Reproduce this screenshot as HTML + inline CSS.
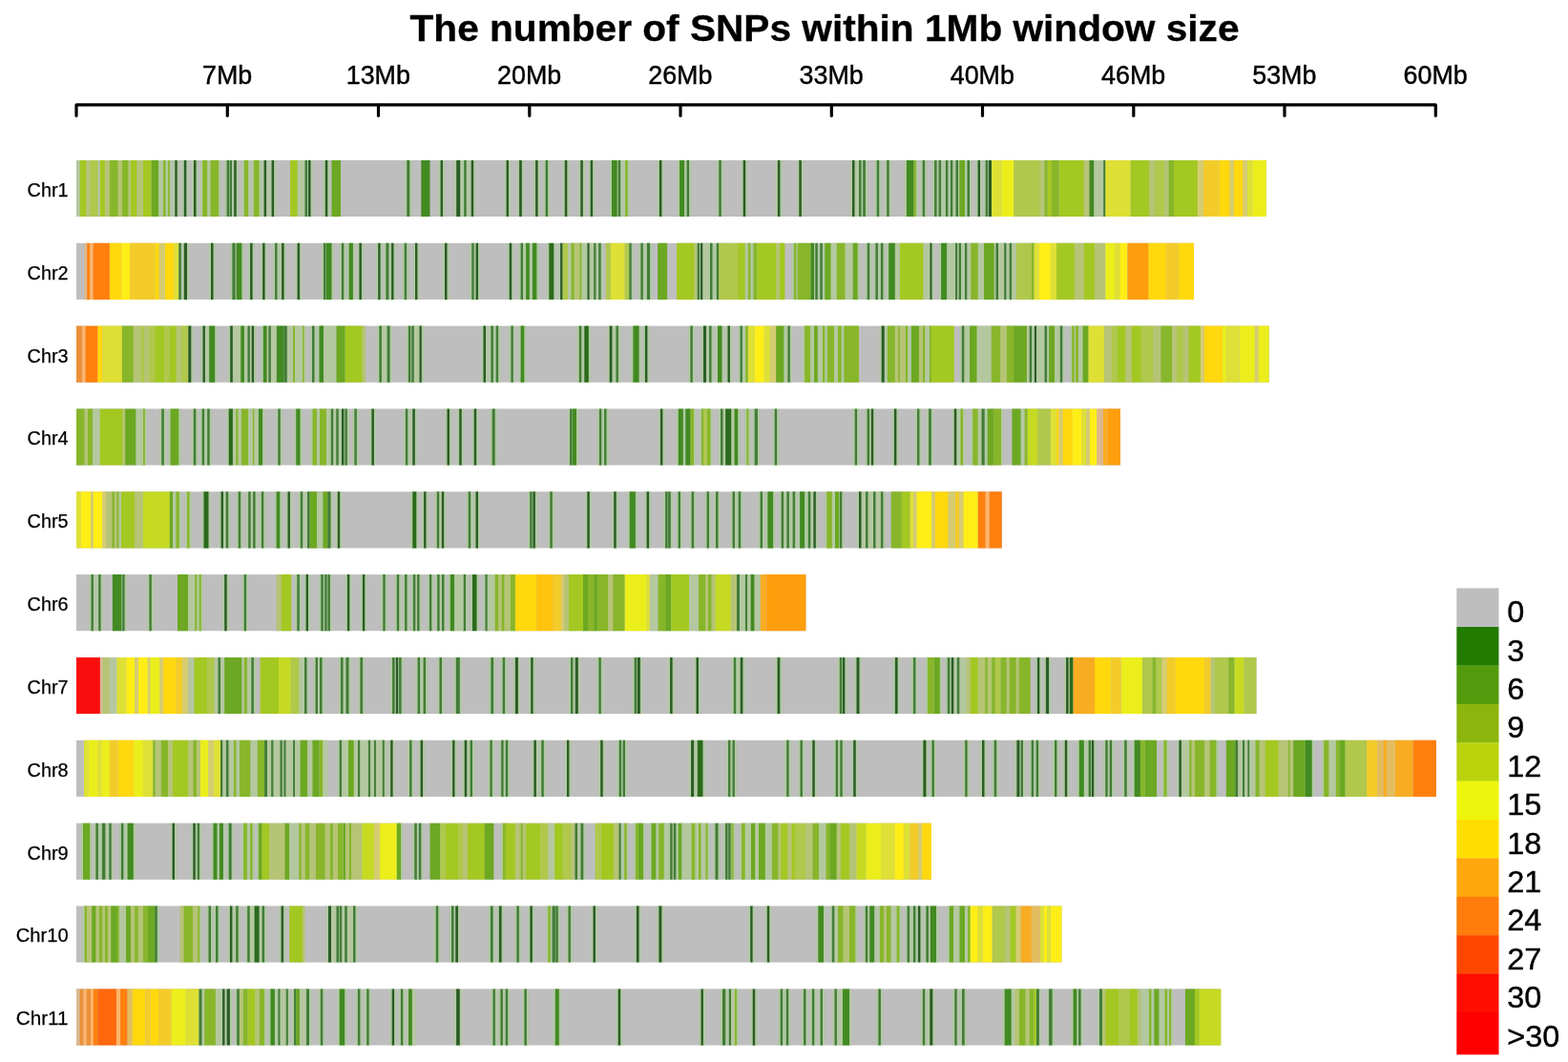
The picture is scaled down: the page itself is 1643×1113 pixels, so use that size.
<!DOCTYPE html>
<html lang="en"><head><meta charset="utf-8"><title>The number of SNPs within 1Mb window size</title>
<style>html,body{margin:0;padding:0;background:#fff}body{width:1643px;height:1113px;overflow:hidden;position:relative}svg{position:absolute;left:0;top:0;display:block}text{font-family:"Liberation Sans",sans-serif;fill:#000}.t{font-size:38px;font-weight:bold;stroke:#000;stroke-width:.3px}.a{font-size:27.5px;stroke:#000;stroke-width:.45px}.r{font-size:20px;stroke:#000;stroke-width:.25px}.l{font-size:31.8px;stroke:#000;stroke-width:.4px}</style></head><body>
<svg width="1643" height="1113" viewBox="0 0 1643 1113">
<defs><filter id="b" x="-2%" y="-20%" width="104%" height="140%"><feGaussianBlur stdDeviation="0.55 0.45"/></filter><filter id="tb"><feGaussianBlur stdDeviation="0.5"/></filter></defs>
<rect width="1643" height="1113" fill="#fff"/>
<g filter="url(#tb)">
<text class="t" x="429.5" y="43.4" textLength="869" lengthAdjust="spacingAndGlyphs">The number of SNPs within 1Mb window size</text>
<path d="M80 121.3V109.9H1504.3V121.3" stroke="#000" stroke-width="3.2" fill="none" stroke-linecap="round" stroke-linejoin="round"/>
<path d="M238.3 110V121.3" stroke="#000" stroke-width="3.2" fill="none" stroke-linecap="round"/>
<text class="a" transform="translate(238.1 87.8) scale(.977 1)" text-anchor="middle">7Mb</text>
<path d="M396.5 110V121.3" stroke="#000" stroke-width="3.2" fill="none" stroke-linecap="round"/>
<text class="a" transform="translate(396.3 87.8) scale(.977 1)" text-anchor="middle">13Mb</text>
<path d="M554.8 110V121.3" stroke="#000" stroke-width="3.2" fill="none" stroke-linecap="round"/>
<text class="a" transform="translate(554.6 87.8) scale(.977 1)" text-anchor="middle">20Mb</text>
<path d="M713 110V121.3" stroke="#000" stroke-width="3.2" fill="none" stroke-linecap="round"/>
<text class="a" transform="translate(712.8 87.8) scale(.977 1)" text-anchor="middle">26Mb</text>
<path d="M871.3 110V121.3" stroke="#000" stroke-width="3.2" fill="none" stroke-linecap="round"/>
<text class="a" transform="translate(871.1 87.8) scale(.977 1)" text-anchor="middle">33Mb</text>
<path d="M1029.5 110V121.3" stroke="#000" stroke-width="3.2" fill="none" stroke-linecap="round"/>
<text class="a" transform="translate(1029.3 87.8) scale(.977 1)" text-anchor="middle">40Mb</text>
<path d="M1187.8 110V121.3" stroke="#000" stroke-width="3.2" fill="none" stroke-linecap="round"/>
<text class="a" transform="translate(1187.6 87.8) scale(.977 1)" text-anchor="middle">46Mb</text>
<path d="M1346 110V121.3" stroke="#000" stroke-width="3.2" fill="none" stroke-linecap="round"/>
<text class="a" transform="translate(1345.8 87.8) scale(.977 1)" text-anchor="middle">53Mb</text>
<text class="a" transform="translate(1504.1 87.8) scale(.977 1)" text-anchor="middle">60Mb</text>
<text class="r" x="28.6" y="205.8" textLength="43" lengthAdjust="spacingAndGlyphs">Chr1</text>
<text class="r" x="28.6" y="292.6" textLength="43" lengthAdjust="spacingAndGlyphs">Chr2</text>
<text class="r" x="28.6" y="379.5" textLength="43" lengthAdjust="spacingAndGlyphs">Chr3</text>
<text class="r" x="28.6" y="466.3" textLength="43" lengthAdjust="spacingAndGlyphs">Chr4</text>
<text class="r" x="28.6" y="553.1" textLength="43" lengthAdjust="spacingAndGlyphs">Chr5</text>
<text class="r" x="28.6" y="640" textLength="43" lengthAdjust="spacingAndGlyphs">Chr6</text>
<text class="r" x="28.6" y="726.8" textLength="43" lengthAdjust="spacingAndGlyphs">Chr7</text>
<text class="r" x="28.6" y="813.7" textLength="43" lengthAdjust="spacingAndGlyphs">Chr8</text>
<text class="r" x="28.6" y="900.5" textLength="43" lengthAdjust="spacingAndGlyphs">Chr9</text>
<text class="r" x="16.8" y="987.4" textLength="54.8" lengthAdjust="spacingAndGlyphs">Chr10</text>
<text class="r" x="16.8" y="1074.2" textLength="54.8" lengthAdjust="spacingAndGlyphs">Chr11</text>
<text class="l" transform="translate(1579.2 652.2) scale(1.02 1)">0</text>
<text class="l" transform="translate(1579.2 692.6) scale(1.02 1)">3</text>
<text class="l" transform="translate(1579.2 733) scale(1.02 1)">6</text>
<text class="l" transform="translate(1579.2 773.4) scale(1.02 1)">9</text>
<text class="l" transform="translate(1579.2 813.8) scale(1.02 1)">12</text>
<text class="l" transform="translate(1579.2 854.2) scale(1.02 1)">15</text>
<text class="l" transform="translate(1579.2 894.6) scale(1.02 1)">18</text>
<text class="l" transform="translate(1579.2 935) scale(1.02 1)">21</text>
<text class="l" transform="translate(1579.2 975.4) scale(1.02 1)">24</text>
<text class="l" transform="translate(1579.2 1015.8) scale(1.02 1)">27</text>
<text class="l" transform="translate(1579.2 1056.2) scale(1.02 1)">30</text>
<text class="l" transform="translate(1579.2 1096.6) scale(1.02 1)">&gt;30</text>
</g>
<g filter="url(#b)">
<rect x="80" y="167.9" width="1247" height="59.1" fill="#bebebe"/>
<path fill="#a4d488" fill-opacity=".5" d="M112.7 167.9h13.1v59.1h-13.1zM125.7 167.9h10.9v59.1h-10.9zM156.4 167.9h11.9v59.1h-11.9zM168.9 167.9h6.9v59.1h-6.9zM173.9 167.9h6.1v59.1h-6.1zM181.1 167.9h6.8v59.1h-6.8zM190.6 167.9h6.9v59.1h-6.9zM200.8 167.9h6.9v59.1h-6.9zM210 167.9h9.4v59.1h-9.4zM218.3 167.9h13.1v59.1h-13.1zM235.4 167.9h6.8v59.1h-6.8zM238.4 167.9h6.8v59.1h-6.8zM243 167.9h6.9v59.1h-6.9zM253.7 167.9h8.6v59.1h-8.6zM263.7 167.9h10.1v59.1h-10.1zM274.4 167.9h6.9v59.1h-6.9zM282.4 167.9h6.9v59.1h-6.9zM317.3 167.9h6.9v59.1h-6.9zM320.8 167.9h6.9v59.1h-6.9zM338.6 167.9h6.9v59.1h-6.9zM424.1 167.9h7.4v59.1h-7.4zM459.4 167.9h6.8v59.1h-6.8zM476 167.9h6.2v59.1h-6.2zM477.6 167.9h6.8v59.1h-6.8zM484 167.9h6.9v59.1h-6.9zM491.5 167.9h6.9v59.1h-6.9zM528.4 167.9h6.8v59.1h-6.8zM541.9 167.9h7.1v59.1h-7.1zM558.9 167.9h6.9v59.1h-6.9zM569.4 167.9h6.9v59.1h-6.9zM589.6 167.9h6.9v59.1h-6.9zM606.1 167.9h6.9v59.1h-6.9zM616.5 167.9h6.8v59.1h-6.8zM638.8 167.9h10.1v59.1h-10.1zM645.5 167.9h6.9v59.1h-6.9zM653 167.9h6.9v59.1h-6.9zM688.7 167.9h6.9v59.1h-6.9zM709.9 167.9h9.4v59.1h-9.4zM717.4 167.9h6.9v59.1h-6.9zM751.1 167.9h6.9v59.1h-6.9zM776.5 167.9h6.9v59.1h-6.9zM812.7 167.9h6.9v59.1h-6.9zM835.1 167.9h6.9v59.1h-6.9zM890.8 167.9h6.9v59.1h-6.9zM897.8 167.9h6.9v59.1h-6.9zM902 167.9h7.1v59.1h-7.1zM916.5 167.9h6.9v59.1h-6.9zM927 167.9h6.9v59.1h-6.9zM947.7 167.9h11.9v59.1h-11.9zM955.2 167.9h6.9v59.1h-6.9zM964.5 167.9h6.8v59.1h-6.8zM976.9 167.9h6.9v59.1h-6.9zM981.4 167.9h6.9v59.1h-6.9zM988.7 167.9h6.8v59.1h-6.8zM993.7 167.9h6.8v59.1h-6.8zM999.3 167.9h6.9v59.1h-6.9zM1003.1 167.9h10.1v59.1h-10.1zM1011.3 167.9h6.9v59.1h-6.9zM1022.4 167.9h6.8v59.1h-6.8zM1030.5 167.9h6.9v59.1h-6.9zM1033.8 167.9h7.4v59.1h-7.4zM1092.4 167.9h7.4v59.1h-7.4zM1099.9 167.9h11.9v59.1h-11.9zM1139.3 167.9h9.1v59.1h-9.1zM1154 167.9h6.8v59.1h-6.8zM1222.3 167.9h9.9v59.1h-9.9z"/>
<path fill="#b4c8a0" d="M80 167.9h3.7v59.1h-3.7zM102.4 167.9h2.5v59.1h-2.5zM166.1 167.9h5v59.1h-5zM217.2 167.9h3.2v59.1h-3.2zM311.6 167.9h8v59.1h-8zM1146.3 167.9h10.2v59.1h-10.2z"/>
<path fill="#a4c822" d="M83.7 167.9h6.7v59.1h-6.7zM104.9 167.9h5v59.1h-5zM136.9 167.9h6.7v59.1h-6.7zM149.9 167.9h8.7v59.1h-8.7zM304.1 167.9h7.5v59.1h-7.5zM1097.6 167.9h4.5v59.1h-4.5zM1109.6 167.9h26.2v59.1h-26.2zM1184.5 167.9h15.5v59.1h-15.5zM1200 167.9h4.5v59.1h-4.5zM1229.9 167.9h25v59.1h-25z"/>
<path fill="#b6c474" d="M90.5 167.9h4.5v59.1h-4.5zM109.9 167.9h5v59.1h-5zM123.7 167.9h4.2v59.1h-4.2zM134.4 167.9h2.5v59.1h-2.5zM143.6 167.9h6.2v59.1h-6.2zM1089.6 167.9h5v59.1h-5zM1135.8 167.9h5.7v59.1h-5.7zM1204.5 167.9h5.5v59.1h-5.5zM1220 167.9h4.5v59.1h-4.5z"/>
<path fill="#b0c84c" d="M95 167.9h7.5v59.1h-7.5zM1062.2 167.9h10v59.1h-10zM1072.2 167.9h17.5v59.1h-17.5zM1210 167.9h10v59.1h-10z"/>
<path fill="#88b62c" d="M114.9 167.9h8.7v59.1h-8.7zM127.9 167.9h6.5v59.1h-6.5zM171.1 167.9h2.5v59.1h-2.5zM176.1 167.9h1.7v59.1h-1.7zM212.2 167.9h5v59.1h-5zM220.5 167.9h8.7v59.1h-8.7zM255.9 167.9h4.2v59.1h-4.2zM265.9 167.9h5.7v59.1h-5.7zM655.2 167.9h2.5v59.1h-2.5zM957.4 167.9h2.5v59.1h-2.5zM1094.6 167.9h3v59.1h-3zM1102.1 167.9h7.5v59.1h-7.5zM1224.5 167.9h5.5v59.1h-5.5z"/>
<path fill="#6ca820" d="M158.6 167.9h7.5v59.1h-7.5zM347.5 167.9h9.5v59.1h-9.5zM1005.3 167.9h5.7v59.1h-5.7z"/>
<path fill="#2b5c26" d="M183.3 167.9h2.4v59.1h-2.4zM192.8 167.9h2.5v59.1h-2.5zM203 167.9h2.5v59.1h-2.5zM245.2 167.9h2.5v59.1h-2.5zM276.6 167.9h2.5v59.1h-2.5zM284.6 167.9h2.5v59.1h-2.5zM323 167.9h2.5v59.1h-2.5zM340.8 167.9h2.5v59.1h-2.5zM461.6 167.9h2.4v59.1h-2.4zM478.2 167.9h1.8v59.1h-1.8zM479.8 167.9h2.4v59.1h-2.4zM493.7 167.9h2.5v59.1h-2.5zM530.6 167.9h2.4v59.1h-2.4zM544.1 167.9h2.7v59.1h-2.7zM561.1 167.9h2.5v59.1h-2.5zM591.8 167.9h2.5v59.1h-2.5zM608.3 167.9h2.5v59.1h-2.5zM618.7 167.9h2.4v59.1h-2.4zM690.9 167.9h2.5v59.1h-2.5zM778.7 167.9h2.5v59.1h-2.5zM814.9 167.9h2.5v59.1h-2.5zM837.3 167.9h2.5v59.1h-2.5zM893 167.9h2.5v59.1h-2.5zM1024.6 167.9h2.4v59.1h-2.4zM1036 167.9h3v59.1h-3z"/>
<path fill="#437c38" d="M237.6 167.9h2.4v59.1h-2.4zM240.6 167.9h2.4v59.1h-2.4zM319.5 167.9h2.5v59.1h-2.5zM426.3 167.9h3v59.1h-3zM486.2 167.9h2.5v59.1h-2.5zM571.6 167.9h2.5v59.1h-2.5zM647.7 167.9h2.5v59.1h-2.5zM719.6 167.9h2.5v59.1h-2.5zM753.3 167.9h2.5v59.1h-2.5zM900 167.9h2.5v59.1h-2.5zM904.2 167.9h2.7v59.1h-2.7zM918.7 167.9h2.5v59.1h-2.5zM929.2 167.9h2.5v59.1h-2.5zM966.7 167.9h2.4v59.1h-2.4zM979.1 167.9h2.5v59.1h-2.5zM983.6 167.9h2.5v59.1h-2.5zM990.9 167.9h2.4v59.1h-2.4zM995.9 167.9h2.4v59.1h-2.4zM1001.5 167.9h2.5v59.1h-2.5zM1013.5 167.9h2.5v59.1h-2.5zM1032.7 167.9h2.5v59.1h-2.5zM1156.2 167.9h2.4v59.1h-2.4z"/>
<path fill="#438a22" d="M441.3 167.9h9.2v59.1h-9.2zM641 167.9h5.7v59.1h-5.7zM712.1 167.9h5v59.1h-5zM949.9 167.9h7.5v59.1h-7.5zM1141.5 167.9h4.7v59.1h-4.7z"/>
<path fill="#dee036" d="M1039 167.9h10.7v59.1h-10.7zM1158.3 167.9h11.2v59.1h-11.2zM1169.5 167.9h15v59.1h-15zM1306.8 167.9h5.5v59.1h-5.5z"/>
<path fill="#ecee1c" d="M1049.7 167.9h12.5v59.1h-12.5zM1312.3 167.9h14.5v59.1h-14.5z"/>
<path fill="#d6cc70" d="M1254.9 167.9h6.2v59.1h-6.2zM1288.6 167.9h4.2v59.1h-4.2zM1302.3 167.9h4.5v59.1h-4.5z"/>
<path fill="#f3cc2c" d="M1261.1 167.9h16.2v59.1h-16.2z"/>
<path fill="#ffd810" d="M1277.4 167.9h11.2v59.1h-11.2zM1292.8 167.9h9.5v59.1h-9.5z"/>
<rect x="80" y="254.8" width="1171" height="59.1" fill="#bebebe"/>
<path fill="#a4d488" fill-opacity=".5" d="M185.1 254.8h6.9v59.1h-6.9zM190.6 254.8h7.6v59.1h-7.6zM218.8 254.8h6.9v59.1h-6.9zM241.2 254.8h7.6v59.1h-7.6zM245.5 254.8h10.1v59.1h-10.1zM259.9 254.8h6.9v59.1h-6.9zM272.9 254.8h6.9v59.1h-6.9zM285.9 254.8h6.8v59.1h-6.8zM292.9 254.8h6.9v59.1h-6.9zM309.4 254.8h6.9v59.1h-6.9zM336.8 254.8h6.9v59.1h-6.9zM339.8 254.8h9.9v59.1h-9.9zM355.7 254.8h6.8v59.1h-6.8zM363.5 254.8h8.6v59.1h-8.6zM374.2 254.8h6.9v59.1h-6.9zM394 254.8h6.8v59.1h-6.8zM402.2 254.8h7.4v59.1h-7.4zM407.9 254.8h6.8v59.1h-6.8zM421.5 254.8h6.8v59.1h-6.8zM432.8 254.8h6.8v59.1h-6.8zM463.8 254.8h6.9v59.1h-6.9zM492.1 254.8h6.8v59.1h-6.8zM496.4 254.8h6.8v59.1h-6.8zM531.5 254.8h6.9v59.1h-6.9zM543.4 254.8h6.8v59.1h-6.8zM548.9 254.8h8.1v59.1h-8.1zM555.7 254.8h8.9v59.1h-8.9zM573.1 254.8h9.4v59.1h-9.4zM584.9 254.8h6.8v59.1h-6.8zM596.3 254.8h7.6v59.1h-7.6zM605.1 254.8h6.4v59.1h-6.4zM613.1 254.8h6.9v59.1h-6.9zM619.8 254.8h6.8v59.1h-6.8zM625 254.8h6.9v59.1h-6.9zM657 254.8h6.9v59.1h-6.9zM669.2 254.8h6.8v59.1h-6.8zM675.7 254.8h7.6v59.1h-7.6zM728.4 254.8h6.8v59.1h-6.8zM731.8 254.8h6.9v59.1h-6.9zM741.8 254.8h6.9v59.1h-6.9zM748.6 254.8h6.9v59.1h-6.9zM781.7 254.8h6.9v59.1h-6.9zM787.2 254.8h8.1v59.1h-8.1zM829.7 254.8h6.9v59.1h-6.9zM847.1 254.8h8.1v59.1h-8.1zM852.1 254.8h6.9v59.1h-6.9zM857.1 254.8h6.9v59.1h-6.9zM862.1 254.8h10.6v59.1h-10.6zM874.6 254.8h13.1v59.1h-13.1zM891.5 254.8h9.4v59.1h-9.4zM906.5 254.8h6.9v59.1h-6.9zM915.2 254.8h6.9v59.1h-6.9zM920.7 254.8h6.9v59.1h-6.9zM929 254.8h11.1v59.1h-11.1zM971.9 254.8h6.8v59.1h-6.8zM983.9 254.8h10.6v59.1h-10.6zM998.5 254.8h6.8v59.1h-6.8zM1002.4 254.8h6.8v59.1h-6.8zM1008.8 254.8h6.9v59.1h-6.9zM1015.1 254.8h11.9v59.1h-11.9zM1041.3 254.8h6.9v59.1h-6.9zM1049.8 254.8h6.8v59.1h-6.8zM1055.5 254.8h6.9v59.1h-6.9zM1078.7 254.8h6.9v59.1h-6.9z"/>
<path fill="#dcb890" d="M88 254.8h3.2v59.1h-3.2z"/>
<path fill="#ff8010" d="M91.2 254.8h3v59.1h-3zM97.4 254.8h17.5v59.1h-17.5z"/>
<path fill="#ffb468" d="M94.2 254.8h3.2v59.1h-3.2z"/>
<path fill="#ffd810" d="M114.9 254.8h12.5v59.1h-12.5zM162.3 254.8h4.5v59.1h-4.5zM172.8 254.8h9.5v59.1h-9.5zM1203.2 254.8h18.7v59.1h-18.7zM1234.4 254.8h16.6v59.1h-16.6z"/>
<path fill="#ffee14" d="M127.4 254.8h8.7v59.1h-8.7zM1088.4 254.8h12.5v59.1h-12.5zM1173.2 254.8h8.2v59.1h-8.2z"/>
<path fill="#f3cc2c" d="M136.1 254.8h26.2v59.1h-26.2zM1221.9 254.8h12.5v59.1h-12.5z"/>
<path fill="#d6cc70" d="M166.8 254.8h6v59.1h-6z"/>
<path fill="#dee036" d="M182.3 254.8h5v59.1h-5zM639.7 254.8h15v59.1h-15zM1083.4 254.8h5v59.1h-5zM1100.9 254.8h6.2v59.1h-6.2zM1168.2 254.8h5v59.1h-5z"/>
<path fill="#437c38" d="M187.3 254.8h2.5v59.1h-2.5zM243.4 254.8h3.2v59.1h-3.2zM288.1 254.8h2.4v59.1h-2.4zM339 254.8h2.5v59.1h-2.5zM357.9 254.8h2.4v59.1h-2.4zM404.4 254.8h3v59.1h-3zM423.7 254.8h2.4v59.1h-2.4zM494.3 254.8h2.4v59.1h-2.4zM545.6 254.8h2.4v59.1h-2.4zM622 254.8h2.4v59.1h-2.4zM627.2 254.8h2.5v59.1h-2.5zM659.2 254.8h2.5v59.1h-2.5zM671.4 254.8h2.4v59.1h-2.4zM677.9 254.8h3.2v59.1h-3.2zM730.6 254.8h2.4v59.1h-2.4zM744 254.8h2.5v59.1h-2.5zM750.8 254.8h2.5v59.1h-2.5zM854.3 254.8h2.5v59.1h-2.5zM859.3 254.8h2.5v59.1h-2.5zM908.7 254.8h2.5v59.1h-2.5zM917.4 254.8h2.5v59.1h-2.5zM922.9 254.8h2.5v59.1h-2.5zM1000.7 254.8h2.4v59.1h-2.4zM1004.6 254.8h2.4v59.1h-2.4zM1011 254.8h2.5v59.1h-2.5zM1043.5 254.8h2.5v59.1h-2.5zM1052 254.8h2.4v59.1h-2.4zM1057.7 254.8h2.5v59.1h-2.5z"/>
<path fill="#2b5c26" d="M192.8 254.8h3.2v59.1h-3.2zM221 254.8h2.5v59.1h-2.5zM262.1 254.8h2.5v59.1h-2.5zM275.1 254.8h2.5v59.1h-2.5zM295.1 254.8h2.5v59.1h-2.5zM311.6 254.8h2.5v59.1h-2.5zM376.4 254.8h2.5v59.1h-2.5zM396.2 254.8h2.4v59.1h-2.4zM410.1 254.8h2.4v59.1h-2.4zM435 254.8h2.4v59.1h-2.4zM466 254.8h2.5v59.1h-2.5zM498.6 254.8h2.4v59.1h-2.4zM533.7 254.8h2.5v59.1h-2.5zM587.1 254.8h2.4v59.1h-2.4zM615.3 254.8h2.5v59.1h-2.5zM734 254.8h2.5v59.1h-2.5zM974.1 254.8h2.4v59.1h-2.4z"/>
<path fill="#438a22" d="M247.7 254.8h5.7v59.1h-5.7zM342 254.8h5.5v59.1h-5.5zM365.7 254.8h4.2v59.1h-4.2zM551.1 254.8h3.7v59.1h-3.7zM557.9 254.8h4.5v59.1h-4.5zM849.3 254.8h3.7v59.1h-3.7zM931.2 254.8h6.7v59.1h-6.7zM986.1 254.8h6.2v59.1h-6.2z"/>
<path fill="#2a6a1e" d="M575.3 254.8h5v59.1h-5z"/>
<path fill="#b0c84c" d="M589.8 254.8h5.5v59.1h-5.5zM634.7 254.8h5v59.1h-5zM654.7 254.8h4.5v59.1h-4.5zM753.3 254.8h20v59.1h-20zM1064.7 254.8h16.2v59.1h-16.2z"/>
<path fill="#b4c8a0" d="M595.3 254.8h3.2v59.1h-3.2zM609.3 254.8h6v59.1h-6zM617.7 254.8h4.5v59.1h-4.5zM736.5 254.8h7.5v59.1h-7.5zM780.7 254.8h3.2v59.1h-3.2zM870.5 254.8h6.2v59.1h-6.2zM885.5 254.8h4.5v59.1h-4.5zM890 254.8h3.7v59.1h-3.7zM937.9 254.8h5v59.1h-5zM967.4 254.8h7v59.1h-7zM992.3 254.8h8.7v59.1h-8.7zM1013.5 254.8h3.7v59.1h-3.7zM1024.8 254.8h6.2v59.1h-6.2zM1046 254.8h6.2v59.1h-6.2zM1060.2 254.8h4.5v59.1h-4.5z"/>
<path fill="#88b62c" d="M598.5 254.8h3.2v59.1h-3.2zM607.3 254.8h2v59.1h-2zM783.9 254.8h2.5v59.1h-2.5zM789.4 254.8h3.7v59.1h-3.7zM831.9 254.8h2.5v59.1h-2.5zM835.6 254.8h13.7v59.1h-13.7zM876.8 254.8h8.7v59.1h-8.7zM1017.3 254.8h7.5v59.1h-7.5zM1080.9 254.8h2.5v59.1h-2.5z"/>
<path fill="#b6c474" d="M601.8 254.8h5.5v59.1h-5.5zM727 254.8h3.2v59.1h-3.2zM813.1 254.8h3.7v59.1h-3.7zM1125.8 254.8h10v59.1h-10zM1147 254.8h11.2v59.1h-11.2z"/>
<path fill="#6ca820" d="M689.1 254.8h10v59.1h-10zM864.3 254.8h6.2v59.1h-6.2zM893.7 254.8h5v59.1h-5zM1031 254.8h10.7v59.1h-10.7z"/>
<path fill="#a4c822" d="M709.1 254.8h18v59.1h-18zM773.2 254.8h7.5v59.1h-7.5zM793.2 254.8h20v59.1h-20zM816.9 254.8h5.5v59.1h-5.5zM942.9 254.8h24.5v59.1h-24.5zM1107.1 254.8h18.7v59.1h-18.7zM1135.8 254.8h11.2v59.1h-11.2z"/>
<path fill="#ecee1c" d="M1158.3 254.8h10v59.1h-10z"/>
<path fill="#ff9e10" d="M1181.5 254.8h21.7v59.1h-21.7z"/>
<rect x="80" y="341.6" width="1250" height="59.1" fill="#bebebe"/>
<path fill="#a4d488" fill-opacity=".5" d="M195.1 341.6h7.4v59.1h-7.4zM210.3 341.6h6.8v59.1h-6.8zM217 341.6h10.4v59.1h-10.4zM239 341.6h7.1v59.1h-7.1zM250 341.6h8.1v59.1h-8.1zM257.3 341.6h6.8v59.1h-6.8zM261.5 341.6h6.8v59.1h-6.8zM273.7 341.6h8.1v59.1h-8.1zM279.2 341.6h6.8v59.1h-6.8zM287.4 341.6h12.4v59.1h-12.4zM295.4 341.6h7.6v59.1h-7.6zM304.9 341.6h6.4v59.1h-6.4zM314.8 341.6h6.1v59.1h-6.1zM324.8 341.6h6.9v59.1h-6.9zM332.3 341.6h8.9v59.1h-8.9zM350.3 341.6h13.4v59.1h-13.4zM395.2 341.6h6.9v59.1h-6.9zM403.4 341.6h7.4v59.1h-7.4zM425.7 341.6h6.8v59.1h-6.8zM429.1 341.6h6.9v59.1h-6.9zM437.1 341.6h6.9v59.1h-6.9zM504.3 341.6h6.9v59.1h-6.9zM512.2 341.6h6.9v59.1h-6.9zM517.5 341.6h6.8v59.1h-6.8zM533.2 341.6h6.8v59.1h-6.8zM543.4 341.6h8.1v59.1h-8.1zM604.6 341.6h6.9v59.1h-6.9zM610.1 341.6h8.9v59.1h-8.9zM636.5 341.6h7.1v59.1h-7.1zM643.3 341.6h6.8v59.1h-6.8zM661.2 341.6h10.6v59.1h-10.6zM673.7 341.6h6.9v59.1h-6.9zM721.2 341.6h6.8v59.1h-6.8zM734.8 341.6h7.4v59.1h-7.4zM740.9 341.6h6.8v59.1h-6.8zM749.8 341.6h8.9v59.1h-8.9zM760.3 341.6h6.8v59.1h-6.8zM773.3 341.6h6.8v59.1h-6.8zM779 341.6h6.9v59.1h-6.9zM810.9 341.6h12.6v59.1h-12.6zM823.2 341.6h6.8v59.1h-6.8zM840.9 341.6h10.6v59.1h-10.6zM850.9 341.6h8.1v59.1h-8.1zM859.6 341.6h6.9v59.1h-6.9zM864.6 341.6h11.9v59.1h-11.9zM875.8 341.6h8.1v59.1h-8.1zM882.1 341.6h10.1v59.1h-10.1zM921.5 341.6h7.4v59.1h-7.4zM927.7 341.6h12.4v59.1h-12.4zM939 341.6h6.1v59.1h-6.1zM946.4 341.6h6.9v59.1h-6.9zM952.7 341.6h12.4v59.1h-12.4zM964.7 341.6h6.9v59.1h-6.9zM971.4 341.6h6.9v59.1h-6.9zM1005.6 341.6h6.9v59.1h-6.9zM1013.8 341.6h11.9v59.1h-11.9zM1052.5 341.6h11.9v59.1h-11.9zM1076.5 341.6h6.8v59.1h-6.8zM1081.7 341.6h6.8v59.1h-6.8zM1092.4 341.6h6.9v59.1h-6.9zM1096.9 341.6h10.4v59.1h-10.4zM1108.6 341.6h6.9v59.1h-6.9zM1121.1 341.6h6.9v59.1h-6.9zM1124.9 341.6h7.4v59.1h-7.4zM1132.4 341.6h10.1v59.1h-10.1z"/>
<path fill="#ec9038" d="M80 341.6h6.2v59.1h-6.2z"/>
<path fill="#ffb468" d="M86.2 341.6h3.2v59.1h-3.2z"/>
<path fill="#ff8010" d="M89.5 341.6h13v59.1h-13z"/>
<path fill="#ffd810" d="M102.4 341.6h5v59.1h-5zM1261.9 341.6h19.2v59.1h-19.2z"/>
<path fill="#dee036" d="M107.4 341.6h20.5v59.1h-20.5zM783.7 341.6h7v59.1h-7zM800.7 341.6h6.2v59.1h-6.2zM1140.3 341.6h16.7v59.1h-16.7zM1284.8 341.6h13.7v59.1h-13.7z"/>
<path fill="#88b62c" d="M127.9 341.6h12v59.1h-12zM307.1 341.6h2v59.1h-2zM317 341.6h1.7v59.1h-1.7zM781.2 341.6h2.5v59.1h-2.5zM843.1 341.6h6.2v59.1h-6.2zM861.8 341.6h2.5v59.1h-2.5zM866.8 341.6h7.5v59.1h-7.5zM878 341.6h3.7v59.1h-3.7zM884.3 341.6h5.7v59.1h-5.7zM890 341.6h10v59.1h-10zM929.9 341.6h8v59.1h-8zM941.2 341.6h1.7v59.1h-1.7zM948.6 341.6h2.5v59.1h-2.5zM966.9 341.6h2.5v59.1h-2.5zM973.6 341.6h2.5v59.1h-2.5zM1038.5 341.6h10v59.1h-10zM1054.7 341.6h7.5v59.1h-7.5zM1123.3 341.6h2.5v59.1h-2.5zM1127.1 341.6h3v59.1h-3zM1216.2 341.6h12v59.1h-12z"/>
<path fill="#b6c474" d="M139.9 341.6h7.5v59.1h-7.5zM151.1 341.6h5v59.1h-5zM184.8 341.6h5v59.1h-5zM379.4 341.6h3.7v59.1h-3.7zM937.9 341.6h3.2v59.1h-3.2zM942.9 341.6h5.7v59.1h-5.7zM962.9 341.6h4v59.1h-4zM1048.5 341.6h6.2v59.1h-6.2zM1157 341.6h7.5v59.1h-7.5zM1179.5 341.6h6.2v59.1h-6.2zM1208.7 341.6h7.5v59.1h-7.5zM1228.2 341.6h4.2v59.1h-4.2zM1239.9 341.6h5.5v59.1h-5.5z"/>
<path fill="#b0c84c" d="M147.4 341.6h3.7v59.1h-3.7zM156.1 341.6h6.2v59.1h-6.2zM172.3 341.6h5v59.1h-5zM189.8 341.6h7.5v59.1h-7.5zM1164.5 341.6h6.2v59.1h-6.2zM1195.7 341.6h4.2v59.1h-4.2zM1200 341.6h8.7v59.1h-8.7zM1232.4 341.6h7.5v59.1h-7.5z"/>
<path fill="#a4c822" d="M162.3 341.6h10v59.1h-10zM177.3 341.6h7.5v59.1h-7.5zM361.5 341.6h18v59.1h-18zM976.1 341.6h23.7v59.1h-23.7zM1170.7 341.6h8.7v59.1h-8.7zM1185.7 341.6h10v59.1h-10zM1245.4 341.6h12.5v59.1h-12.5z"/>
<path fill="#2b5c26" d="M197.3 341.6h3v59.1h-3zM212.5 341.6h2.4v59.1h-2.4zM241.2 341.6h2.7v59.1h-2.7zM263.7 341.6h2.4v59.1h-2.4zM439.3 341.6h2.5v59.1h-2.5zM506.5 341.6h2.5v59.1h-2.5zM638.7 341.6h2.7v59.1h-2.7zM675.9 341.6h2.5v59.1h-2.5zM737 341.6h3v59.1h-3zM762.5 341.6h2.4v59.1h-2.4zM923.7 341.6h3v59.1h-3zM1083.9 341.6h2.4v59.1h-2.4z"/>
<path fill="#438a22" d="M219.2 341.6h6v59.1h-6zM252.2 341.6h3.7v59.1h-3.7zM275.9 341.6h3.7v59.1h-3.7zM289.6 341.6h8v59.1h-8zM334.5 341.6h4.5v59.1h-4.5zM545.6 341.6h3.7v59.1h-3.7zM663.4 341.6h6.2v59.1h-6.2zM752 341.6h4.5v59.1h-4.5z"/>
<path fill="#b4c8a0" d="M243.9 341.6h8.2v59.1h-8.2zM283.6 341.6h6v59.1h-6zM300.8 341.6h6.2v59.1h-6.2zM309.1 341.6h8v59.1h-8zM339 341.6h13v59.1h-13zM399.9 341.6h5.7v59.1h-5.7zM433.8 341.6h5.5v59.1h-5.5zM821.4 341.6h4.2v59.1h-4.2zM849.3 341.6h3.7v59.1h-3.7zM856.8 341.6h5v59.1h-5zM874.3 341.6h3.7v59.1h-3.7zM969.4 341.6h4.2v59.1h-4.2zM1010.3 341.6h5.7v59.1h-5.7zM1023.5 341.6h15v59.1h-15zM1075.9 341.6h3v59.1h-3zM1086.1 341.6h8.5v59.1h-8.5zM1105.1 341.6h5.7v59.1h-5.7zM1130.1 341.6h4.5v59.1h-4.5z"/>
<path fill="#437c38" d="M259.5 341.6h2.4v59.1h-2.4zM281.4 341.6h2.4v59.1h-2.4zM297.6 341.6h3.2v59.1h-3.2zM327 341.6h2.5v59.1h-2.5zM397.4 341.6h2.5v59.1h-2.5zM405.6 341.6h3v59.1h-3zM427.9 341.6h2.4v59.1h-2.4zM431.3 341.6h2.5v59.1h-2.5zM514.4 341.6h2.5v59.1h-2.5zM519.7 341.6h2.4v59.1h-2.4zM535.4 341.6h2.4v59.1h-2.4zM606.8 341.6h2.5v59.1h-2.5zM645.5 341.6h2.4v59.1h-2.4zM723.4 341.6h2.4v59.1h-2.4zM743.1 341.6h2.4v59.1h-2.4zM775.5 341.6h2.4v59.1h-2.4zM825.4 341.6h2.4v59.1h-2.4zM1007.8 341.6h2.5v59.1h-2.5zM1078.7 341.6h2.4v59.1h-2.4zM1094.6 341.6h2.5v59.1h-2.5zM1110.8 341.6h2.5v59.1h-2.5z"/>
<path fill="#6ca820" d="M352.5 341.6h9v59.1h-9zM813.1 341.6h8.2v59.1h-8.2zM853.1 341.6h3.7v59.1h-3.7zM954.9 341.6h8v59.1h-8zM1016 341.6h7.5v59.1h-7.5zM1062.2 341.6h13.7v59.1h-13.7zM1099.1 341.6h6v59.1h-6zM1134.6 341.6h5.7v59.1h-5.7z"/>
<path fill="#2a6a1e" d="M612.3 341.6h4.5v59.1h-4.5z"/>
<path fill="#ffee14" d="M790.7 341.6h10v59.1h-10z"/>
<path fill="#d6cc70" d="M806.9 341.6h6.2v59.1h-6.2zM1257.9 341.6h4v59.1h-4zM1314.8 341.6h3.7v59.1h-3.7z"/>
<path fill="#ecee1c" d="M1281.1 341.6h3.7v59.1h-3.7zM1298.6 341.6h16.2v59.1h-16.2zM1318.5 341.6h11.2v59.1h-11.2z"/>
<rect x="80" y="428.4" width="1094" height="59.1" fill="#bebebe"/>
<path fill="#a4d488" fill-opacity=".5" d="M80 428.4h10.9v59.1h-10.9zM89.8 428.4h9.4v59.1h-9.4zM147.7 428.4h6.4v59.1h-6.4zM167.1 428.4h6.9v59.1h-6.9zM176.4 428.4h13.1v59.1h-13.1zM200.6 428.4h6.9v59.1h-6.9zM209.5 428.4h6.8v59.1h-6.8zM215 428.4h6.9v59.1h-6.9zM237.5 428.4h8.6v59.1h-8.6zM245 428.4h6.9v59.1h-6.9zM250.5 428.4h11.9v59.1h-11.9zM262.4 428.4h6.4v59.1h-6.4zM268.7 428.4h8.6v59.1h-8.6zM289.1 428.4h6.9v59.1h-6.9zM308.1 428.4h8.6v59.1h-8.6zM325.3 428.4h8.9v59.1h-8.9zM332.8 428.4h11.4v59.1h-11.4zM344.6 428.4h6.8v59.1h-6.8zM350.1 428.4h6.8v59.1h-6.8zM355.8 428.4h6.8v59.1h-6.8zM359.2 428.4h6.8v59.1h-6.8zM369.2 428.4h6.8v59.1h-6.8zM387.2 428.4h6.9v59.1h-6.9zM422.7 428.4h6.8v59.1h-6.8zM430.1 428.4h6.9v59.1h-6.9zM466.3 428.4h6.9v59.1h-6.9zM479 428.4h6.9v59.1h-6.9zM494.5 428.4h6.9v59.1h-6.9zM513.5 428.4h7.4v59.1h-7.4zM594.9 428.4h6.8v59.1h-6.8zM597.6 428.4h8.6v59.1h-8.6zM625.7 428.4h6.8v59.1h-6.8zM630.9 428.4h6.8v59.1h-6.8zM689.7 428.4h6.9v59.1h-6.9zM708.6 428.4h9.4v59.1h-9.4zM716.1 428.4h9.4v59.1h-9.4zM721.1 428.4h8.1v59.1h-8.1zM732.8 428.4h6.9v59.1h-6.9zM738.6 428.4h8.1v59.1h-8.1zM752.8 428.4h6.9v59.1h-6.9zM758 428.4h10.4v59.1h-10.4zM767.3 428.4h8.1v59.1h-8.1zM780.2 428.4h6.4v59.1h-6.4zM788.5 428.4h7.6v59.1h-7.6zM809.5 428.4h6.8v59.1h-6.8zM893.5 428.4h6.8v59.1h-6.8zM906.4 428.4h6.8v59.1h-6.8zM910.6 428.4h6.8v59.1h-6.8zM934.7 428.4h6.9v59.1h-6.9zM958.8 428.4h6.8v59.1h-6.8zM970.9 428.4h7.1v59.1h-7.1zM997.6 428.4h6.9v59.1h-6.9zM1004.3 428.4h6.9v59.1h-6.9zM1017.1 428.4h9.9v59.1h-9.9zM1026.3 428.4h7.6v59.1h-7.6zM1032.5 428.4h10.6v59.1h-10.6zM1038.8 428.4h12.4v59.1h-12.4zM1071.2 428.4h7.6v59.1h-7.6z"/>
<path fill="#88b62c" d="M80 428.4h8.7v59.1h-8.7zM92 428.4h5v59.1h-5zM149.9 428.4h2v59.1h-2zM247.2 428.4h2.5v59.1h-2.5zM252.7 428.4h7.5v59.1h-7.5zM264.6 428.4h2v59.1h-2zM327.5 428.4h4.5v59.1h-4.5zM335 428.4h7v59.1h-7zM723.3 428.4h3.7v59.1h-3.7zM735 428.4h2.5v59.1h-2.5zM740.8 428.4h3.7v59.1h-3.7zM782.4 428.4h2v59.1h-2zM1006.5 428.4h2.5v59.1h-2.5zM1019.3 428.4h5.5v59.1h-5.5zM1041 428.4h8v59.1h-8zM1073.4 428.4h3.2v59.1h-3.2z"/>
<path fill="#b6c474" d="M88.7 428.4h3.2v59.1h-3.2zM128.6 428.4h2.5v59.1h-2.5z"/>
<path fill="#b4c8a0" d="M97 428.4h8v59.1h-8zM142.4 428.4h7.5v59.1h-7.5zM243.9 428.4h3.2v59.1h-3.2zM249.7 428.4h3v59.1h-3zM260.2 428.4h4.5v59.1h-4.5zM266.6 428.4h4.2v59.1h-4.2zM332 428.4h3v59.1h-3zM342 428.4h5v59.1h-5zM766.2 428.4h3.2v59.1h-3.2zM1024.8 428.4h3.7v59.1h-3.7zM1069.7 428.4h3.7v59.1h-3.7z"/>
<path fill="#a4c822" d="M104.9 428.4h23.7v59.1h-23.7z"/>
<path fill="#6ca820" d="M131.1 428.4h11.2v59.1h-11.2zM178.6 428.4h8.7v59.1h-8.7zM1034.7 428.4h6.2v59.1h-6.2zM1060.4 428.4h9.2v59.1h-9.2z"/>
<path fill="#437c38" d="M169.3 428.4h2.5v59.1h-2.5zM202.8 428.4h2.5v59.1h-2.5zM211.7 428.4h2.4v59.1h-2.4zM217.2 428.4h2.5v59.1h-2.5zM291.3 428.4h2.5v59.1h-2.5zM346.8 428.4h2.4v59.1h-2.4zM352.3 428.4h2.4v59.1h-2.4zM361.4 428.4h2.4v59.1h-2.4zM371.4 428.4h2.4v59.1h-2.4zM424.9 428.4h2.4v59.1h-2.4zM515.7 428.4h3v59.1h-3zM597.1 428.4h2.4v59.1h-2.4zM627.9 428.4h2.4v59.1h-2.4zM633.1 428.4h2.4v59.1h-2.4zM755 428.4h2.5v59.1h-2.5zM790.7 428.4h3.2v59.1h-3.2zM811.7 428.4h2.4v59.1h-2.4zM895.7 428.4h2.4v59.1h-2.4zM908.6 428.4h2.4v59.1h-2.4zM961 428.4h2.4v59.1h-2.4zM973.1 428.4h2.7v59.1h-2.7zM1028.5 428.4h3.2v59.1h-3.2z"/>
<path fill="#2a6a1e" d="M239.7 428.4h4.2v59.1h-4.2zM760.2 428.4h6v59.1h-6z"/>
<path fill="#438a22" d="M270.9 428.4h4.2v59.1h-4.2zM310.3 428.4h4.2v59.1h-4.2zM599.8 428.4h4.2v59.1h-4.2zM710.8 428.4h5v59.1h-5zM718.3 428.4h5v59.1h-5zM769.5 428.4h3.7v59.1h-3.7z"/>
<path fill="#2b5c26" d="M358 428.4h2.4v59.1h-2.4zM389.4 428.4h2.5v59.1h-2.5zM432.3 428.4h2.5v59.1h-2.5zM468.5 428.4h2.5v59.1h-2.5zM481.2 428.4h2.5v59.1h-2.5zM496.7 428.4h2.5v59.1h-2.5zM691.9 428.4h2.5v59.1h-2.5zM912.8 428.4h2.4v59.1h-2.4zM936.9 428.4h2.5v59.1h-2.5zM999.8 428.4h2.5v59.1h-2.5z"/>
<path fill="#b0c84c" d="M737.5 428.4h3.2v59.1h-3.2zM1087.1 428.4h13.7v59.1h-13.7z"/>
<path fill="#c6da22" d="M1076.7 428.4h10.5v59.1h-10.5z"/>
<path fill="#dee036" d="M1100.9 428.4h6.2v59.1h-6.2zM1133.3 428.4h5v59.1h-5z"/>
<path fill="#ffd810" d="M1107.1 428.4h2.5v59.1h-2.5zM1113.3 428.4h10v59.1h-10z"/>
<path fill="#d6cc70" d="M1109.6 428.4h3.7v59.1h-3.7zM1138.3 428.4h3.7v59.1h-3.7z"/>
<path fill="#ffee14" d="M1123.3 428.4h10v59.1h-10zM1142 428.4h7.5v59.1h-7.5z"/>
<path fill="#dcb890" d="M1149.5 428.4h6.2v59.1h-6.2z"/>
<path fill="#f8ac24" d="M1155.8 428.4h5v59.1h-5z"/>
<path fill="#ff9e10" d="M1160.8 428.4h13.2v59.1h-13.2z"/>
<rect x="80" y="515.3" width="970" height="59.1" fill="#bebebe"/>
<path fill="#a4d488" fill-opacity=".5" d="M115.2 515.3h6.9v59.1h-6.9zM120.2 515.3h6.4v59.1h-6.4zM175.6 515.3h7.6v59.1h-7.6zM182.1 515.3h7.9v59.1h-7.9zM193.8 515.3h6.9v59.1h-6.9zM211.3 515.3h9.4v59.1h-9.4zM229.4 515.3h6.8v59.1h-6.8zM234.5 515.3h6.9v59.1h-6.9zM247.5 515.3h6.9v59.1h-6.9zM258 515.3h6.9v59.1h-6.9zM262.9 515.3h6.9v59.1h-6.9zM271.7 515.3h6.8v59.1h-6.8zM287.4 515.3h8.1v59.1h-8.1zM299.3 515.3h6.8v59.1h-6.8zM312.6 515.3h6.8v59.1h-6.8zM319.8 515.3h6.9v59.1h-6.9zM322.3 515.3h11.9v59.1h-11.9zM336.1 515.3h9.4v59.1h-9.4zM341.1 515.3h7.6v59.1h-7.6zM351.6 515.3h6.8v59.1h-6.8zM430.1 515.3h8.4v59.1h-8.4zM441.9 515.3h6.8v59.1h-6.8zM455.6 515.3h6.8v59.1h-6.8zM460.6 515.3h6.8v59.1h-6.8zM488.5 515.3h6.9v59.1h-6.9zM496.3 515.3h6.9v59.1h-6.9zM553 515.3h6.8v59.1h-6.8zM556.2 515.3h6.9v59.1h-6.9zM574.1 515.3h6.9v59.1h-6.9zM613.1 515.3h6.9v59.1h-6.9zM641 515.3h6.9v59.1h-6.9zM657.5 515.3h10.6v59.1h-10.6zM675.4 515.3h6.9v59.1h-6.9zM694.9 515.3h6.9v59.1h-6.9zM697.9 515.3h7.1v59.1h-7.1zM708.4 515.3h6.8v59.1h-6.8zM722.4 515.3h6.9v59.1h-6.9zM738.4 515.3h6.8v59.1h-6.8zM747.8 515.3h6.9v59.1h-6.9zM765.4 515.3h6.8v59.1h-6.8zM771.5 515.3h6.9v59.1h-6.9zM794.4 515.3h6.8v59.1h-6.8zM802.2 515.3h10.1v59.1h-10.1zM816.5 515.3h6.8v59.1h-6.8zM822.2 515.3h6.9v59.1h-6.9zM828.4 515.3h6.9v59.1h-6.9zM835.9 515.3h9.4v59.1h-9.4zM844.6 515.3h6.9v59.1h-6.9zM850.2 515.3h6.8v59.1h-6.8zM864.1 515.3h9.9v59.1h-9.9zM872.8 515.3h8.6v59.1h-8.6zM877.7 515.3h6.8v59.1h-6.8zM897.8 515.3h6.9v59.1h-6.9zM904.8 515.3h6.9v59.1h-6.9zM912.8 515.3h6.9v59.1h-6.9zM920.7 515.3h6.9v59.1h-6.9z"/>
<path fill="#dee036" d="M80 515.3h4.5v59.1h-4.5zM953.6 515.3h3.7v59.1h-3.7z"/>
<path fill="#ffee14" d="M84.5 515.3h10.5v59.1h-10.5zM97.4 515.3h10v59.1h-10zM960.4 515.3h15.7v59.1h-15.7zM1009.3 515.3h15.5v59.1h-15.5z"/>
<path fill="#d6cc70" d="M95 515.3h2.5v59.1h-2.5zM107.4 515.3h3.7v59.1h-3.7zM957.4 515.3h3v59.1h-3zM976.1 515.3h3.7v59.1h-3.7zM993.6 515.3h7.5v59.1h-7.5zM1005.3 515.3h4v59.1h-4z"/>
<path fill="#b6c474" d="M111.2 515.3h6.2v59.1h-6.2zM119.9 515.3h2.5v59.1h-2.5zM141.1 515.3h8.7v59.1h-8.7z"/>
<path fill="#88b62c" d="M117.4 515.3h2.5v59.1h-2.5zM122.4 515.3h2v59.1h-2zM184.3 515.3h3.5v59.1h-3.5zM196 515.3h2.5v59.1h-2.5zM866.3 515.3h5.5v59.1h-5.5zM933.7 515.3h11.2v59.1h-11.2z"/>
<path fill="#a4c822" d="M126.9 515.3h14.2v59.1h-14.2zM944.9 515.3h8.7v59.1h-8.7z"/>
<path fill="#c6da22" d="M149.9 515.3h12.5v59.1h-12.5zM162.3 515.3h15.5v59.1h-15.5z"/>
<path fill="#6ca820" d="M177.8 515.3h3.2v59.1h-3.2zM324.5 515.3h7.5v59.1h-7.5zM338.3 515.3h5v59.1h-5zM875 515.3h4.2v59.1h-4.2z"/>
<path fill="#b4c8a0" d="M181 515.3h3.2v59.1h-3.2zM332 515.3h6.2v59.1h-6.2zM902.5 515.3h4.5v59.1h-4.5zM909.5 515.3h5.5v59.1h-5.5zM917.4 515.3h5.5v59.1h-5.5z"/>
<path fill="#2a6a1e" d="M213.5 515.3h5v59.1h-5zM432.3 515.3h4v59.1h-4z"/>
<path fill="#2b5c26" d="M231.6 515.3h2.4v59.1h-2.4zM301.5 515.3h2.4v59.1h-2.4zM353.8 515.3h2.4v59.1h-2.4zM444.1 515.3h2.4v59.1h-2.4zM462.8 515.3h2.4v59.1h-2.4zM498.5 515.3h2.5v59.1h-2.5zM558.4 515.3h2.5v59.1h-2.5zM615.3 515.3h2.5v59.1h-2.5zM643.2 515.3h2.5v59.1h-2.5zM677.6 515.3h2.5v59.1h-2.5zM852.4 515.3h2.4v59.1h-2.4zM900 515.3h2.5v59.1h-2.5z"/>
<path fill="#437c38" d="M236.7 515.3h2.5v59.1h-2.5zM249.7 515.3h2.5v59.1h-2.5zM260.2 515.3h2.5v59.1h-2.5zM265.1 515.3h2.5v59.1h-2.5zM273.9 515.3h2.4v59.1h-2.4zM314.8 515.3h2.4v59.1h-2.4zM322 515.3h2.5v59.1h-2.5zM343.3 515.3h3.2v59.1h-3.2zM457.8 515.3h2.4v59.1h-2.4zM490.7 515.3h2.5v59.1h-2.5zM555.2 515.3h2.4v59.1h-2.4zM576.3 515.3h2.5v59.1h-2.5zM697.1 515.3h2.5v59.1h-2.5zM700.1 515.3h2.7v59.1h-2.7zM710.6 515.3h2.4v59.1h-2.4zM724.6 515.3h2.5v59.1h-2.5zM740.6 515.3h2.4v59.1h-2.4zM750 515.3h2.5v59.1h-2.5zM767.6 515.3h2.4v59.1h-2.4zM773.7 515.3h2.5v59.1h-2.5zM796.6 515.3h2.4v59.1h-2.4zM818.7 515.3h2.4v59.1h-2.4zM824.4 515.3h2.5v59.1h-2.5zM830.6 515.3h2.5v59.1h-2.5zM846.8 515.3h2.5v59.1h-2.5zM879.9 515.3h2.4v59.1h-2.4zM907 515.3h2.5v59.1h-2.5zM915 515.3h2.5v59.1h-2.5zM922.9 515.3h2.5v59.1h-2.5z"/>
<path fill="#438a22" d="M289.6 515.3h3.7v59.1h-3.7zM659.7 515.3h6.2v59.1h-6.2zM804.4 515.3h5.7v59.1h-5.7zM838.1 515.3h5v59.1h-5z"/>
<path fill="#ffd810" d="M979.8 515.3h13.7v59.1h-13.7z"/>
<path fill="#f3cc2c" d="M1001 515.3h4.2v59.1h-4.2z"/>
<path fill="#ff8010" d="M1024.8 515.3h8v59.1h-8zM1036.5 515.3h13.2v59.1h-13.2z"/>
<path fill="#ffb468" d="M1032.7 515.3h3.7v59.1h-3.7z"/>
<rect x="80" y="602.1" width="764.5" height="59.1" fill="#bebebe"/>
<path fill="#a4d488" fill-opacity=".5" d="M93.3 602.1h6.8v59.1h-6.8zM101 602.1h6.8v59.1h-6.8zM126 602.1h6.8v59.1h-6.8zM154.2 602.1h6.8v59.1h-6.8zM202.1 602.1h6.4v59.1h-6.4zM206.5 602.1h6.4v59.1h-6.4zM233 602.1h6.9v59.1h-6.9zM253.5 602.1h6.8v59.1h-6.8zM309.1 602.1h6.9v59.1h-6.9zM318.4 602.1h6.8v59.1h-6.8zM334.1 602.1h6.9v59.1h-6.9zM338 602.1h6.8v59.1h-6.8zM341.3 602.1h6.8v59.1h-6.8zM361.7 602.1h6.8v59.1h-6.8zM377.7 602.1h6.8v59.1h-6.8zM399.1 602.1h6.8v59.1h-6.8zM413.6 602.1h6.8v59.1h-6.8zM421.9 602.1h6.8v59.1h-6.8zM430.7 602.1h6.8v59.1h-6.8zM434.9 602.1h6.8v59.1h-6.8zM447.7 602.1h6.8v59.1h-6.8zM456 602.1h6.8v59.1h-6.8zM460.8 602.1h6.8v59.1h-6.8zM469.6 602.1h8.9v59.1h-8.9zM483.3 602.1h6.9v59.1h-6.9zM492.8 602.1h8.9v59.1h-8.9zM506.3 602.1h6.8v59.1h-6.8zM516.5 602.1h8.1v59.1h-8.1zM523.2 602.1h7.6v59.1h-7.6zM532.7 602.1h9.4v59.1h-9.4zM608.8 602.1h9.4v59.1h-9.4zM613.8 602.1h10.6v59.1h-10.6zM620 602.1h8.1v59.1h-8.1zM687.4 602.1h11.9v59.1h-11.9zM694.9 602.1h10.6v59.1h-10.6zM729.8 602.1h11.9v59.1h-11.9zM739.8 602.1h8.1v59.1h-8.1zM769.8 602.1h7.4v59.1h-7.4zM778.5 602.1h6.9v59.1h-6.9zM784.2 602.1h8.6v59.1h-8.6z"/>
<path fill="#437c38" d="M95.5 602.1h2.4v59.1h-2.4zM103.2 602.1h2.4v59.1h-2.4zM128.2 602.1h2.4v59.1h-2.4zM156.4 602.1h2.4v59.1h-2.4zM255.7 602.1h2.4v59.1h-2.4zM311.3 602.1h2.5v59.1h-2.5zM336.3 602.1h2.5v59.1h-2.5zM340.2 602.1h2.4v59.1h-2.4zM343.5 602.1h2.4v59.1h-2.4zM401.3 602.1h2.4v59.1h-2.4zM415.8 602.1h2.4v59.1h-2.4zM424.1 602.1h2.4v59.1h-2.4zM432.9 602.1h2.4v59.1h-2.4zM437.1 602.1h2.4v59.1h-2.4zM449.9 602.1h2.4v59.1h-2.4zM458.2 602.1h2.4v59.1h-2.4zM463 602.1h2.4v59.1h-2.4zM485.5 602.1h2.5v59.1h-2.5zM508.5 602.1h2.4v59.1h-2.4zM772 602.1h3v59.1h-3zM780.7 602.1h2.5v59.1h-2.5z"/>
<path fill="#438a22" d="M117.9 602.1h9.5v59.1h-9.5zM471.8 602.1h4.5v59.1h-4.5zM786.4 602.1h4.2v59.1h-4.2z"/>
<path fill="#6ca820" d="M186 602.1h11.2v59.1h-11.2zM611 602.1h5v59.1h-5zM622.2 602.1h3.7v59.1h-3.7zM697.1 602.1h6.2v59.1h-6.2z"/>
<path fill="#b4c8a0" d="M197.3 602.1h6.2v59.1h-6.2zM476.3 602.1h3.7v59.1h-3.7zM480 602.1h5.5v59.1h-5.5zM510.7 602.1h8v59.1h-8zM680.9 602.1h8.7v59.1h-8.7zM722.1 602.1h10v59.1h-10zM775 602.1h5.7v59.1h-5.7zM783.2 602.1h3.2v59.1h-3.2zM790.7 602.1h6.2v59.1h-6.2z"/>
<path fill="#88b62c" d="M204.3 602.1h2v59.1h-2zM208.7 602.1h2v59.1h-2zM518.7 602.1h3.7v59.1h-3.7zM525.4 602.1h3.2v59.1h-3.2zM534.9 602.1h5v59.1h-5zM616 602.1h6.2v59.1h-6.2zM626 602.1h11.2v59.1h-11.2zM642.2 602.1h12.5v59.1h-12.5zM689.6 602.1h7.5v59.1h-7.5zM732 602.1h7.5v59.1h-7.5zM742 602.1h3.7v59.1h-3.7z"/>
<path fill="#2b5c26" d="M235.2 602.1h2.5v59.1h-2.5zM320.6 602.1h2.4v59.1h-2.4zM363.9 602.1h2.4v59.1h-2.4zM379.9 602.1h2.4v59.1h-2.4z"/>
<path fill="#b6c474" d="M289.6 602.1h5v59.1h-5zM522.4 602.1h3v59.1h-3zM528.7 602.1h6.2v59.1h-6.2zM591 602.1h5v59.1h-5zM637.2 602.1h5v59.1h-5zM739.5 602.1h2.5v59.1h-2.5zM745.8 602.1h3.7v59.1h-3.7zM765.7 602.1h6.2v59.1h-6.2z"/>
<path fill="#a4c822" d="M294.6 602.1h10.7v59.1h-10.7zM596 602.1h15v59.1h-15zM703.3 602.1h18.7v59.1h-18.7z"/>
<path fill="#2a6a1e" d="M495 602.1h4.5v59.1h-4.5z"/>
<path fill="#ffd810" d="M539.9 602.1h22.5v59.1h-22.5z"/>
<path fill="#ffc410" d="M562.3 602.1h17.5v59.1h-17.5z"/>
<path fill="#f3cc2c" d="M579.8 602.1h8.7v59.1h-8.7z"/>
<path fill="#d6cc70" d="M588.6 602.1h2.5v59.1h-2.5z"/>
<path fill="#ecee1c" d="M654.7 602.1h22.5v59.1h-22.5z"/>
<path fill="#dee036" d="M677.1 602.1h3.7v59.1h-3.7z"/>
<path fill="#c6da22" d="M749.5 602.1h16.2v59.1h-16.2z"/>
<path fill="#f8ac24" d="M796.9 602.1h6.2v59.1h-6.2z"/>
<path fill="#ff9e10" d="M803.2 602.1h41.2v59.1h-41.2z"/>
<rect x="80" y="689" width="1236.5" height="59.1" fill="#bebebe"/>
<path fill="#a4d488" fill-opacity=".5" d="M226.3 689h6.9v59.1h-6.9zM253.7 689h7.4v59.1h-7.4zM261.2 689h6.9v59.1h-6.9zM316.8 689h6.9v59.1h-6.9zM328.4 689h6.8v59.1h-6.8zM332.8 689h6.9v59.1h-6.9zM354.8 689h6.9v59.1h-6.9zM360.3 689h7.4v59.1h-7.4zM375.2 689h7.1v59.1h-7.1zM408.9 689h6.9v59.1h-6.9zM412.6 689h6.8v59.1h-6.8zM415.9 689h6.9v59.1h-6.9zM435.4 689h6.9v59.1h-6.9zM441.4 689h6.9v59.1h-6.9zM458.3 689h6.9v59.1h-6.9zM475.6 689h6.6v59.1h-6.6zM477.2 689h6.8v59.1h-6.8zM512.2 689h7.1v59.1h-7.1zM524.5 689h6.8v59.1h-6.8zM537.7 689h7.4v59.1h-7.4zM554 689h6.8v59.1h-6.8zM595.8 689h6.8v59.1h-6.8zM600.6 689h7.4v59.1h-7.4zM625.2 689h6.8v59.1h-6.8zM662.5 689h6.9v59.1h-6.9zM665.7 689h7.4v59.1h-7.4zM699.9 689h6.9v59.1h-6.9zM727.3 689h6.9v59.1h-6.9zM766.6 689h6.8v59.1h-6.8zM773.5 689h7.1v59.1h-7.1zM812.4 689h7.1v59.1h-7.1zM877.6 689h6.8v59.1h-6.8zM880.7 689h6.8v59.1h-6.8zM895.3 689h7.4v59.1h-7.4zM935.7 689h7.1v59.1h-7.1zM954.7 689h6.9v59.1h-6.9zM969.7 689h11.1v59.1h-11.1zM976.4 689h10.6v59.1h-10.6zM990.6 689h6.9v59.1h-6.9zM994.6 689h6.9v59.1h-6.9zM1000.6 689h6.9v59.1h-6.9zM1030 689h6.9v59.1h-6.9zM1037 689h7.9v59.1h-7.9zM1046.3 689h10.6v59.1h-10.6zM1055.5 689h11.4v59.1h-11.4zM1084.7 689h6.8v59.1h-6.8zM1093.7 689h7.6v59.1h-7.6zM1114.9 689h6.9v59.1h-6.9zM1118.6 689h8.1v59.1h-8.1zM1205.3 689h8.1v59.1h-8.1zM1285.1 689h10.6v59.1h-10.6z"/>
<path fill="#fa0c0c" d="M80 689h24.9v59.1h-24.9z"/>
<path fill="#dcb890" d="M104.9 689h2.5v59.1h-2.5z"/>
<path fill="#b6c474" d="M107.4 689h7.5v59.1h-7.5zM1012.3 689h4.5v59.1h-4.5zM1024.8 689h7.5v59.1h-7.5zM1034.7 689h4.5v59.1h-4.5zM1054.7 689h3v59.1h-3zM1064.7 689h3v59.1h-3zM1268.6 689h3.7v59.1h-3.7z"/>
<path fill="#b4c8a0" d="M114.9 689h7.5v59.1h-7.5zM197.3 689h6.2v59.1h-6.2zM224.7 689h3.7v59.1h-3.7zM231 689h4.2v59.1h-4.2zM253.4 689h2.5v59.1h-2.5zM258.9 689h4.5v59.1h-4.5zM313.3 689h5v59.1h-5zM1005.3 689h7v59.1h-7z"/>
<path fill="#dee036" d="M122.4 689h10v59.1h-10z"/>
<path fill="#ffee14" d="M132.4 689h8.7v59.1h-8.7zM144.9 689h10v59.1h-10z"/>
<path fill="#d6cc70" d="M141.1 689h3.7v59.1h-3.7zM154.8 689h2.5v59.1h-2.5zM167.3 689h3.7v59.1h-3.7zM191 689h6.2v59.1h-6.2zM1217.5 689h5v59.1h-5z"/>
<path fill="#ecee1c" d="M157.3 689h10v59.1h-10zM1174.5 689h22.5v59.1h-22.5z"/>
<path fill="#ffd810" d="M171.1 689h13.7v59.1h-13.7zM1147 689h17.5v59.1h-17.5zM1231.2 689h31.2v59.1h-31.2z"/>
<path fill="#f3cc2c" d="M184.8 689h6.2v59.1h-6.2zM1164.5 689h10v59.1h-10zM1222.5 689h8.7v59.1h-8.7zM1262.4 689h6.2v59.1h-6.2z"/>
<path fill="#a4c822" d="M203.5 689h13.7v59.1h-13.7zM272.6 689h19.5v59.1h-19.5zM1016.8 689h8v59.1h-8z"/>
<path fill="#b0c84c" d="M217.2 689h7.5v59.1h-7.5zM304.6 689h8.7v59.1h-8.7zM1042.7 689h5.7v59.1h-5.7zM1196.9 689h3v59.1h-3zM1200 689h7.5v59.1h-7.5zM1211.2 689h6.2v59.1h-6.2zM1272.4 689h15v59.1h-15zM1303.6 689h12.9v59.1h-12.9z"/>
<path fill="#437c38" d="M228.5 689h2.5v59.1h-2.5zM263.4 689h2.5v59.1h-2.5zM319 689h2.5v59.1h-2.5zM330.6 689h2.4v59.1h-2.4zM335 689h2.5v59.1h-2.5zM357 689h2.5v59.1h-2.5zM362.5 689h3v59.1h-3zM377.4 689h2.7v59.1h-2.7zM411.1 689h2.5v59.1h-2.5zM418.1 689h2.5v59.1h-2.5zM437.6 689h2.5v59.1h-2.5zM443.6 689h2.5v59.1h-2.5zM460.5 689h2.5v59.1h-2.5zM477.8 689h2.2v59.1h-2.2zM479.4 689h2.4v59.1h-2.4zM514.4 689h2.7v59.1h-2.7zM526.7 689h2.4v59.1h-2.4zM598 689h2.4v59.1h-2.4zM627.4 689h2.4v59.1h-2.4zM664.7 689h2.5v59.1h-2.5zM768.8 689h2.4v59.1h-2.4zM879.8 689h2.4v59.1h-2.4zM956.9 689h2.5v59.1h-2.5zM992.8 689h2.5v59.1h-2.5zM1002.8 689h2.5v59.1h-2.5z"/>
<path fill="#6ca820" d="M235.2 689h18.2v59.1h-18.2zM978.6 689h6.2v59.1h-6.2z"/>
<path fill="#88b62c" d="M255.9 689h3v59.1h-3zM971.9 689h6.7v59.1h-6.7zM1032.2 689h2.5v59.1h-2.5zM1039.2 689h3.5v59.1h-3.5zM1048.5 689h6.2v59.1h-6.2zM1057.7 689h7v59.1h-7zM1067.7 689h12v59.1h-12zM1207.5 689h3.7v59.1h-3.7zM1287.3 689h6.2v59.1h-6.2z"/>
<path fill="#c6da22" d="M292.1 689h12.5v59.1h-12.5zM1293.6 689h10v59.1h-10z"/>
<path fill="#2b5c26" d="M414.8 689h2.4v59.1h-2.4zM539.9 689h3v59.1h-3zM556.2 689h2.4v59.1h-2.4zM602.8 689h3v59.1h-3zM667.9 689h3v59.1h-3zM702.1 689h2.5v59.1h-2.5zM729.5 689h2.5v59.1h-2.5zM775.7 689h2.7v59.1h-2.7zM814.6 689h2.7v59.1h-2.7zM882.9 689h2.4v59.1h-2.4zM897.5 689h3v59.1h-3zM937.9 689h2.7v59.1h-2.7zM996.8 689h2.5v59.1h-2.5zM1086.9 689h2.4v59.1h-2.4zM1095.9 689h3.2v59.1h-3.2zM1117.1 689h2.5v59.1h-2.5z"/>
<path fill="#2a6a1e" d="M1120.8 689h3.7v59.1h-3.7z"/>
<path fill="#f8ac24" d="M1124.6 689h22.5v59.1h-22.5z"/>
<rect x="80" y="775.8" width="1425" height="59.1" fill="#bebebe"/>
<path fill="#a4d488" fill-opacity=".5" d="M158.1 775.8h6.9v59.1h-6.9zM166.4 775.8h11.9v59.1h-11.9zM200.1 775.8h8.1v59.1h-8.1zM228.8 775.8h6.9v59.1h-6.9zM234.5 775.8h7.4v59.1h-7.4zM242.5 775.8h7.4v59.1h-7.4zM267.4 775.8h11.9v59.1h-11.9zM274.9 775.8h7.4v59.1h-7.4zM281.9 775.8h6.9v59.1h-6.9zM291.1 775.8h6.9v59.1h-6.9zM295.2 775.8h6.8v59.1h-6.8zM304.7 775.8h6.8v59.1h-6.8zM312.4 775.8h11.9v59.1h-11.9zM325.3 775.8h11.4v59.1h-11.4zM332.3 775.8h8.1v59.1h-8.1zM353.5 775.8h6.9v59.1h-6.9zM362.8 775.8h10.1v59.1h-10.1zM372.7 775.8h6.9v59.1h-6.9zM383.5 775.8h6.9v59.1h-6.9zM389.5 775.8h6.8v59.1h-6.8zM398.2 775.8h6.8v59.1h-6.8zM407 775.8h6.8v59.1h-6.8zM426.9 775.8h6.8v59.1h-6.8zM438.4 775.8h6.9v59.1h-6.9zM471.9 775.8h6.8v59.1h-6.8zM484.5 775.8h6.9v59.1h-6.9zM490.4 775.8h6.8v59.1h-6.8zM511.2 775.8h6.8v59.1h-6.8zM523 775.8h6.8v59.1h-6.8zM527.6 775.8h6.8v59.1h-6.8zM557.2 775.8h6.9v59.1h-6.9zM565.1 775.8h6.9v59.1h-6.9zM591.8 775.8h6.8v59.1h-6.8zM627 775.8h6.9v59.1h-6.9zM646.5 775.8h6.8v59.1h-6.8zM650.4 775.8h6.8v59.1h-6.8zM721.9 775.8h7.4v59.1h-7.4zM728.6 775.8h10.1v59.1h-10.1zM760.8 775.8h6.8v59.1h-6.8zM765.3 775.8h6.8v59.1h-6.8zM822 775.8h6.8v59.1h-6.8zM836.3 775.8h6.8v59.1h-6.8zM849.1 775.8h6.9v59.1h-6.9zM873.5 775.8h6.8v59.1h-6.8zM878.1 775.8h6.8v59.1h-6.8zM892 775.8h6.9v59.1h-6.9zM965.2 775.8h7.4v59.1h-7.4zM974.3 775.8h6.8v59.1h-6.8zM1009 775.8h6.8v59.1h-6.8zM1026.8 775.8h6.9v59.1h-6.9zM1039.5 775.8h6.9v59.1h-6.9zM1063.2 775.8h7.4v59.1h-7.4zM1067.4 775.8h6.8v59.1h-6.8zM1078.5 775.8h6.8v59.1h-6.8zM1083.5 775.8h6.8v59.1h-6.8zM1102.8 775.8h6.8v59.1h-6.8zM1113.6 775.8h6.8v59.1h-6.8zM1128.6 775.8h9.4v59.1h-9.4zM1138.4 775.8h6.8v59.1h-6.8zM1141.6 775.8h6.8v59.1h-6.8zM1156.1 775.8h6.8v59.1h-6.8zM1160.5 775.8h6.8v59.1h-6.8zM1176 775.8h6.9v59.1h-6.9zM1186.5 775.8h10.6v59.1h-10.6zM1192.7 775.8h9.4v59.1h-9.4zM1217.3 775.8h7.4v59.1h-7.4zM1233.2 775.8h6.9v59.1h-6.9zM1244 775.8h6.9v59.1h-6.9zM1265.2 775.8h11.4v59.1h-11.4zM1292.1 775.8h7.4v59.1h-7.4zM1299.6 775.8h6.9v59.1h-6.9zM1304.9 775.8h6.8v59.1h-6.8zM1313.1 775.8h8.9v59.1h-8.9zM1347.5 775.8h6.4v59.1h-6.4zM1365.5 775.8h11.4v59.1h-11.4zM1385 775.8h9.9v59.1h-9.9zM1397.4 775.8h8.1v59.1h-8.1zM1401.2 775.8h10.6v59.1h-10.6z"/>
<path fill="#dee036" d="M88 775.8h4.5v59.1h-4.5zM102.4 775.8h3.7v59.1h-3.7zM149.9 775.8h10.5v59.1h-10.5zM223.5 775.8h7.5v59.1h-7.5z"/>
<path fill="#ecee1c" d="M92.5 775.8h10v59.1h-10zM106.2 775.8h8.7v59.1h-8.7zM139.9 775.8h10v59.1h-10zM209.7 775.8h8.7v59.1h-8.7z"/>
<path fill="#f3cc2c" d="M114.9 775.8h8.7v59.1h-8.7zM1432.1 775.8h11.2v59.1h-11.2z"/>
<path fill="#ffd810" d="M123.7 775.8h16.2v59.1h-16.2z"/>
<path fill="#88b62c" d="M160.3 775.8h2.5v59.1h-2.5zM168.6 775.8h7.5v59.1h-7.5zM202.3 775.8h3.7v59.1h-3.7zM244.7 775.8h3v59.1h-3zM250.9 775.8h11.7v59.1h-11.7zM269.6 775.8h7.5v59.1h-7.5zM334.5 775.8h3.7v59.1h-3.7zM1194.9 775.8h5v59.1h-5zM1219.5 775.8h3v59.1h-3zM1246.2 775.8h2.5v59.1h-2.5zM1251.9 775.8h10.5v59.1h-10.5zM1267.4 775.8h7v59.1h-7zM1315.3 775.8h4.5v59.1h-4.5zM1349.7 775.8h2v59.1h-2zM1387.2 775.8h5.5v59.1h-5.5zM1399.6 775.8h3.7v59.1h-3.7z"/>
<path fill="#b6c474" d="M162.8 775.8h5.7v59.1h-5.7zM176.1 775.8h5v59.1h-5zM197.3 775.8h5v59.1h-5zM206 775.8h3.7v59.1h-3.7zM1248.7 775.8h3.2v59.1h-3.2zM1262.4 775.8h5v59.1h-5zM1319.8 775.8h5.7v59.1h-5.7zM1339.7 775.8h10v59.1h-10zM1351.7 775.8h3.5v59.1h-3.5z"/>
<path fill="#a4c822" d="M181 775.8h16.2v59.1h-16.2zM1325.5 775.8h14.2v59.1h-14.2z"/>
<path fill="#d6cc70" d="M218.5 775.8h5v59.1h-5z"/>
<path fill="#437c38" d="M231 775.8h2.5v59.1h-2.5zM236.7 775.8h3v59.1h-3zM277.1 775.8h3v59.1h-3zM284.1 775.8h2.5v59.1h-2.5zM293.3 775.8h2.5v59.1h-2.5zM297.4 775.8h2.4v59.1h-2.4zM306.9 775.8h2.4v59.1h-2.4zM355.7 775.8h2.5v59.1h-2.5zM374.9 775.8h2.5v59.1h-2.5zM385.7 775.8h2.5v59.1h-2.5zM391.7 775.8h2.4v59.1h-2.4zM400.4 775.8h2.4v59.1h-2.4zM429.1 775.8h2.4v59.1h-2.4zM492.6 775.8h2.4v59.1h-2.4zM513.4 775.8h2.4v59.1h-2.4zM525.2 775.8h2.4v59.1h-2.4zM529.8 775.8h2.4v59.1h-2.4zM567.3 775.8h2.5v59.1h-2.5zM648.7 775.8h2.4v59.1h-2.4zM652.6 775.8h2.4v59.1h-2.4zM763 775.8h2.4v59.1h-2.4zM767.5 775.8h2.4v59.1h-2.4zM824.2 775.8h2.4v59.1h-2.4zM838.5 775.8h2.4v59.1h-2.4zM875.7 775.8h2.4v59.1h-2.4zM880.3 775.8h2.4v59.1h-2.4zM976.5 775.8h2.4v59.1h-2.4zM1011.2 775.8h2.4v59.1h-2.4zM1041.7 775.8h2.5v59.1h-2.5zM1069.6 775.8h2.4v59.1h-2.4zM1080.7 775.8h2.4v59.1h-2.4zM1085.7 775.8h2.4v59.1h-2.4zM1105 775.8h2.4v59.1h-2.4zM1140.6 775.8h2.4v59.1h-2.4zM1158.3 775.8h2.4v59.1h-2.4zM1162.7 775.8h2.4v59.1h-2.4zM1178.2 775.8h2.5v59.1h-2.5zM1294.3 775.8h3v59.1h-3zM1301.8 775.8h2.5v59.1h-2.5zM1307.1 775.8h2.4v59.1h-2.4z"/>
<path fill="#b4c8a0" d="M233.5 775.8h3.2v59.1h-3.2zM239.7 775.8h5v59.1h-5zM247.7 775.8h3.2v59.1h-3.2zM262.6 775.8h7v59.1h-7zM280.1 775.8h4v59.1h-4zM286.6 775.8h6.7v59.1h-6.7zM299.6 775.8h7.5v59.1h-7.5zM309.1 775.8h5.5v59.1h-5.5zM322 775.8h5.5v59.1h-5.5zM338.3 775.8h5v59.1h-5zM358.2 775.8h6.7v59.1h-6.7zM370.7 775.8h4.2v59.1h-4.2zM377.4 775.8h8.2v59.1h-8.2zM388.2 775.8h3.7v59.1h-3.7zM393.9 775.8h6.7v59.1h-6.7zM1237.9 775.8h8.2v59.1h-8.2zM1297.3 775.8h4.5v59.1h-4.5zM1304.3 775.8h3v59.1h-3zM1309.3 775.8h6v59.1h-6zM1392.6 775.8h7v59.1h-7z"/>
<path fill="#6ca820" d="M314.6 775.8h7.5v59.1h-7.5zM327.5 775.8h7v59.1h-7zM365 775.8h5.7v59.1h-5.7zM1200 775.8h12v59.1h-12zM1284.8 775.8h9.5v59.1h-9.5zM1355.2 775.8h12.5v59.1h-12.5zM1403.4 775.8h6.2v59.1h-6.2z"/>
<path fill="#2b5c26" d="M409.2 775.8h2.4v59.1h-2.4zM440.6 775.8h2.5v59.1h-2.5zM474.1 775.8h2.4v59.1h-2.4zM486.7 775.8h2.5v59.1h-2.5zM559.4 775.8h2.5v59.1h-2.5zM594 775.8h2.4v59.1h-2.4zM629.2 775.8h2.5v59.1h-2.5zM724.1 775.8h3v59.1h-3zM851.3 775.8h2.5v59.1h-2.5zM894.2 775.8h2.5v59.1h-2.5zM967.4 775.8h3v59.1h-3zM1029 775.8h2.5v59.1h-2.5zM1065.4 775.8h3v59.1h-3zM1115.8 775.8h2.4v59.1h-2.4zM1143.8 775.8h2.4v59.1h-2.4zM1235.4 775.8h2.5v59.1h-2.5z"/>
<path fill="#2a6a1e" d="M730.8 775.8h5.7v59.1h-5.7z"/>
<path fill="#438a22" d="M1130.8 775.8h5v59.1h-5zM1188.7 775.8h6.2v59.1h-6.2zM1367.7 775.8h7v59.1h-7z"/>
<path fill="#b0c84c" d="M1409.6 775.8h22.5v59.1h-22.5z"/>
<path fill="#e4bc60" d="M1443.3 775.8h6.2v59.1h-6.2zM1453.3 775.8h8.7v59.1h-8.7z"/>
<path fill="#f8ac24" d="M1449.5 775.8h3.7v59.1h-3.7zM1462 775.8h18.7v59.1h-18.7z"/>
<path fill="#ff8010" d="M1480.7 775.8h24.2v59.1h-24.2z"/>
<rect x="80" y="862.7" width="896" height="59.1" fill="#bebebe"/>
<path fill="#a4d488" fill-opacity=".5" d="M84.8 862.7h11.6v59.1h-11.6zM98.2 862.7h6.9v59.1h-6.9zM104.7 862.7h7.9v59.1h-7.9zM112.1 862.7h6.8v59.1h-6.8zM124.7 862.7h6.9v59.1h-6.9zM131.4 862.7h10.6v59.1h-10.6zM178.4 862.7h6.8v59.1h-6.8zM200.1 862.7h6.9v59.1h-6.9zM204.5 862.7h6.8v59.1h-6.8zM221.3 862.7h8.6v59.1h-8.6zM227.5 862.7h8.6v59.1h-8.6zM237.5 862.7h7.4v59.1h-7.4zM253 862.7h8.1v59.1h-8.1zM259.9 862.7h6.9v59.1h-6.9zM268.7 862.7h8.1v59.1h-8.1zM296.1 862.7h9.4v59.1h-9.4zM311.1 862.7h6.9v59.1h-6.9zM317.3 862.7h9.4v59.1h-9.4zM343.5 862.7h7.6v59.1h-7.6zM351.8 862.7h9.9v59.1h-9.9zM357.3 862.7h6.9v59.1h-6.9zM363.5 862.7h6.9v59.1h-6.9zM413.4 862.7h8.9v59.1h-8.9zM432.1 862.7h6.9v59.1h-6.9zM436.6 862.7h6.9v59.1h-6.9zM524.7 862.7h7.4v59.1h-7.4zM543.2 862.7h6.9v59.1h-6.9zM600.1 862.7h7.4v59.1h-7.4zM606.1 862.7h7.4v59.1h-7.4zM646 862.7h6.8v59.1h-6.8zM652 862.7h6.9v59.1h-6.9zM663.7 862.7h6.9v59.1h-6.9zM666.2 862.7h10.1v59.1h-10.1zM680.4 862.7h9.4v59.1h-9.4zM687.9 862.7h10.1v59.1h-10.1zM699.9 862.7h6.9v59.1h-6.9zM703.6 862.7h6.9v59.1h-6.9zM708.6 862.7h8.1v59.1h-8.1zM722.4 862.7h8.1v59.1h-8.1zM729.8 862.7h6.9v59.1h-6.9zM737.3 862.7h6.4v59.1h-6.4zM747.3 862.7h7.4v59.1h-7.4zM757.8 862.7h6.9v59.1h-6.9zM761 862.7h6.9v59.1h-6.9zM764.3 862.7h6.4v59.1h-6.4zM774.8 862.7h8.1v59.1h-8.1zM784.7 862.7h8.9v59.1h-8.9zM792.7 862.7h11.4v59.1h-11.4zM806.7 862.7h11.1v59.1h-11.1zM849.1 862.7h11.1v59.1h-11.1zM863.3 862.7h8.1v59.1h-8.1zM867.1 862.7h11.9v59.1h-11.9z"/>
<path fill="#6ca820" d="M87 862.7h7.2v59.1h-7.2zM270.9 862.7h3.7v59.1h-3.7zM298.3 862.7h5v59.1h-5zM359.5 862.7h2.5v59.1h-2.5zM415.6 862.7h4.5v59.1h-4.5zM450.6 862.7h10.7v59.1h-10.7zM507.4 862.7h10v59.1h-10zM668.4 862.7h5.7v59.1h-5.7zM682.6 862.7h5v59.1h-5zM710.8 862.7h3.7v59.1h-3.7zM786.9 862.7h4.5v59.1h-4.5zM794.9 862.7h7v59.1h-7zM869.3 862.7h7.5v59.1h-7.5z"/>
<path fill="#437c38" d="M100.4 862.7h2.5v59.1h-2.5zM106.9 862.7h3.5v59.1h-3.5zM114.3 862.7h2.4v59.1h-2.4zM126.9 862.7h2.5v59.1h-2.5zM206.7 862.7h2.4v59.1h-2.4zM239.7 862.7h3v59.1h-3zM434.3 862.7h2.5v59.1h-2.5zM438.8 862.7h2.5v59.1h-2.5zM602.3 862.7h3v59.1h-3zM608.3 862.7h3v59.1h-3zM648.2 862.7h2.4v59.1h-2.4zM702.1 862.7h2.5v59.1h-2.5zM705.8 862.7h2.5v59.1h-2.5zM749.5 862.7h3v59.1h-3zM760 862.7h2.5v59.1h-2.5zM763.2 862.7h2.5v59.1h-2.5z"/>
<path fill="#438a22" d="M133.6 862.7h6.2v59.1h-6.2zM223.5 862.7h4.2v59.1h-4.2zM229.7 862.7h4.2v59.1h-4.2z"/>
<path fill="#2b5c26" d="M180.6 862.7h2.4v59.1h-2.4zM202.3 862.7h2.5v59.1h-2.5z"/>
<path fill="#b4c8a0" d="M227.7 862.7h2v59.1h-2zM303.3 862.7h10v59.1h-10zM574.3 862.7h6.7v59.1h-6.7zM605.3 862.7h3v59.1h-3zM687.6 862.7h2.5v59.1h-2.5zM695.9 862.7h6.2v59.1h-6.2zM714.6 862.7h10v59.1h-10zM728.3 862.7h3.7v59.1h-3.7zM734.5 862.7h5v59.1h-5zM780.7 862.7h6.2v59.1h-6.2zM791.4 862.7h3.5v59.1h-3.5zM801.9 862.7h7v59.1h-7zM858.1 862.7h7.5v59.1h-7.5z"/>
<path fill="#88b62c" d="M255.2 862.7h3.7v59.1h-3.7zM262.1 862.7h2.5v59.1h-2.5zM313.3 862.7h2.5v59.1h-2.5zM319.5 862.7h5v59.1h-5zM330.8 862.7h10v59.1h-10zM345.7 862.7h3.2v59.1h-3.2zM354 862.7h5.5v59.1h-5.5zM365.7 862.7h2.5v59.1h-2.5zM526.9 862.7h3v59.1h-3zM545.4 862.7h2.5v59.1h-2.5zM654.2 862.7h2.5v59.1h-2.5zM665.9 862.7h2.5v59.1h-2.5zM690.1 862.7h5.7v59.1h-5.7zM724.6 862.7h3.7v59.1h-3.7zM732 862.7h2.5v59.1h-2.5zM739.5 862.7h2v59.1h-2zM766.5 862.7h2v59.1h-2zM777 862.7h3.7v59.1h-3.7zM808.9 862.7h6.7v59.1h-6.7zM851.3 862.7h6.7v59.1h-6.7zM865.5 862.7h3.7v59.1h-3.7z"/>
<path fill="#a4c822" d="M274.6 862.7h7.5v59.1h-7.5zM466.8 862.7h13.2v59.1h-13.2zM490 862.7h17.5v59.1h-17.5zM529.9 862.7h10v59.1h-10zM551.1 862.7h15v59.1h-15zM581.1 862.7h8.7v59.1h-8.7zM629.7 862.7h13.7v59.1h-13.7zM818.1 862.7h7.5v59.1h-7.5zM829.4 862.7h3.7v59.1h-3.7zM880.5 862.7h9.5v59.1h-9.5z"/>
<path fill="#b6c474" d="M282.1 862.7h7.5v59.1h-7.5zM289.6 862.7h8.7v59.1h-8.7zM315.8 862.7h3.7v59.1h-3.7zM324.5 862.7h6.2v59.1h-6.2zM340.8 862.7h5v59.1h-5zM349 862.7h5v59.1h-5zM362 862.7h3.7v59.1h-3.7zM368.2 862.7h11.2v59.1h-11.2zM485 862.7h5v59.1h-5zM539.9 862.7h5.5v59.1h-5.5zM547.9 862.7h3.2v59.1h-3.2zM598.5 862.7h3.7v59.1h-3.7zM643.5 862.7h5v59.1h-5zM815.6 862.7h2.5v59.1h-2.5zM825.6 862.7h3.7v59.1h-3.7zM844.3 862.7h7v59.1h-7zM876.8 862.7h3.7v59.1h-3.7zM890 862.7h7.5v59.1h-7.5z"/>
<path fill="#c6da22" d="M379.4 862.7h12.5v59.1h-12.5zM897.5 862.7h10v59.1h-10z"/>
<path fill="#d6cc70" d="M391.9 862.7h6.2v59.1h-6.2zM962.4 862.7h3.7v59.1h-3.7z"/>
<path fill="#ecee1c" d="M398.1 862.7h17.5v59.1h-17.5zM907.5 862.7h16.2v59.1h-16.2z"/>
<path fill="#b0c84c" d="M461.3 862.7h5.5v59.1h-5.5zM480 862.7h5v59.1h-5zM566.1 862.7h8.2v59.1h-8.2zM589.8 862.7h8.7v59.1h-8.7zM623.5 862.7h6.2v59.1h-6.2zM833.1 862.7h11.2v59.1h-11.2z"/>
<path fill="#dee036" d="M923.7 862.7h13.7v59.1h-13.7zM946.9 862.7h6.7v59.1h-6.7z"/>
<path fill="#ffee14" d="M937.4 862.7h9.5v59.1h-9.5z"/>
<path fill="#f3cc2c" d="M953.6 862.7h8.7v59.1h-8.7z"/>
<path fill="#ffd810" d="M966.1 862.7h9.9v59.1h-9.9z"/>
<rect x="80" y="949.5" width="1032.5" height="59.1" fill="#bebebe"/>
<path fill="#a4d488" fill-opacity=".5" d="M86.5 949.5h6.9v59.1h-6.9zM94 949.5h8.6v59.1h-8.6zM101.5 949.5h8.1v59.1h-8.1zM107.7 949.5h7.4v59.1h-7.4zM114 949.5h11.1v59.1h-11.1zM120.7 949.5h6.4v59.1h-6.4zM129.7 949.5h9.4v59.1h-9.4zM138.9 949.5h8.1v59.1h-8.1zM147.7 949.5h9.4v59.1h-9.4zM152.6 949.5h11.9v59.1h-11.9zM160.1 949.5h6.9v59.1h-6.9zM205 949.5h6.4v59.1h-6.4zM216.3 949.5h6.9v59.1h-6.9zM223.8 949.5h6.9v59.1h-6.9zM238.7 949.5h6.9v59.1h-6.9zM245 949.5h6.9v59.1h-6.9zM257 949.5h6.9v59.1h-6.9zM264.4 949.5h9.4v59.1h-9.4zM272.4 949.5h6.9v59.1h-6.9zM292.4 949.5h6.9v59.1h-6.9zM341.8 949.5h7.4v59.1h-7.4zM350.3 949.5h6.9v59.1h-6.9zM353.5 949.5h6.9v59.1h-6.9zM359 949.5h6.9v59.1h-6.9zM367.8 949.5h6.9v59.1h-6.9zM454.6 949.5h6.9v59.1h-6.9zM470.8 949.5h6.9v59.1h-6.9zM475.1 949.5h7.1v59.1h-7.1zM511.7 949.5h7.1v59.1h-7.1zM520.7 949.5h7.1v59.1h-7.1zM539.2 949.5h6.9v59.1h-6.9zM553.2 949.5h6.9v59.1h-6.9zM572.1 949.5h6.9v59.1h-6.9zM576.4 949.5h7.6v59.1h-7.6zM580.1 949.5h6.9v59.1h-6.9zM593.3 949.5h6.8v59.1h-6.8zM619.3 949.5h6.9v59.1h-6.9zM664.7 949.5h7.1v59.1h-7.1zM688.2 949.5h7.4v59.1h-7.4zM784 949.5h6.8v59.1h-6.8zM801.6 949.5h6.8v59.1h-6.8zM855.1 949.5h10.1v59.1h-10.1zM869.6 949.5h6.9v59.1h-6.9zM875.8 949.5h10.1v59.1h-10.1zM887.8 949.5h10.6v59.1h-10.6zM904.6 949.5h6.8v59.1h-6.8zM909 949.5h9.4v59.1h-9.4zM919.7 949.5h8.6v59.1h-8.6zM926.5 949.5h9.4v59.1h-9.4zM937.2 949.5h7.4v59.1h-7.4zM948.4 949.5h6.9v59.1h-6.9zM954.7 949.5h6.9v59.1h-6.9zM959.7 949.5h6.9v59.1h-6.9zM968.2 949.5h6.9v59.1h-6.9zM972.6 949.5h10.6v59.1h-10.6zM992.6 949.5h8.6v59.1h-8.6zM1003.1 949.5h10.1v59.1h-10.1zM1011.8 949.5h7.1v59.1h-7.1z"/>
<path fill="#88b62c" d="M88.7 949.5h2.5v59.1h-2.5zM103.7 949.5h3.7v59.1h-3.7zM109.9 949.5h3v59.1h-3zM122.9 949.5h2v59.1h-2zM141.1 949.5h3.7v59.1h-3.7zM149.9 949.5h5v59.1h-5zM192.3 949.5h10v59.1h-10zM207.2 949.5h2v59.1h-2zM574.3 949.5h2.5v59.1h-2.5zM878 949.5h5.7v59.1h-5.7zM890 949.5h6.2v59.1h-6.2zM921.9 949.5h4.2v59.1h-4.2zM928.7 949.5h5v59.1h-5zM939.4 949.5h3v59.1h-3zM1014 949.5h2.7v59.1h-2.7z"/>
<path fill="#b6c474" d="M91.2 949.5h5v59.1h-5zM100.4 949.5h3.2v59.1h-3.2zM107.4 949.5h2.5v59.1h-2.5zM112.9 949.5h3.2v59.1h-3.2zM136.9 949.5h4.2v59.1h-4.2zM144.9 949.5h5v59.1h-5zM188.5 949.5h3.7v59.1h-3.7zM202.3 949.5h5v59.1h-5zM317 949.5h2.5v59.1h-2.5zM883.8 949.5h6.2v59.1h-6.2zM926.2 949.5h2.5v59.1h-2.5zM1053.5 949.5h5v59.1h-5z"/>
<path fill="#6ca820" d="M96.2 949.5h4.2v59.1h-4.2zM116.2 949.5h6.7v59.1h-6.7zM131.9 949.5h5v59.1h-5zM154.8 949.5h7.5v59.1h-7.5zM994.8 949.5h4.2v59.1h-4.2zM1005.3 949.5h5.7v59.1h-5.7z"/>
<path fill="#b4c8a0" d="M124.9 949.5h7v59.1h-7zM261.6 949.5h5v59.1h-5zM347 949.5h5.5v59.1h-5.5zM363.7 949.5h6.2v59.1h-6.2zM874.3 949.5h3.7v59.1h-3.7zM933.7 949.5h5.7v59.1h-5.7zM999.1 949.5h6.2v59.1h-6.2zM1011 949.5h3v59.1h-3z"/>
<path fill="#437c38" d="M162.3 949.5h2.5v59.1h-2.5zM218.5 949.5h2.5v59.1h-2.5zM226 949.5h2.5v59.1h-2.5zM247.2 949.5h2.5v59.1h-2.5zM259.2 949.5h2.5v59.1h-2.5zM274.6 949.5h2.5v59.1h-2.5zM352.5 949.5h2.5v59.1h-2.5zM355.7 949.5h2.5v59.1h-2.5zM361.2 949.5h2.5v59.1h-2.5zM370 949.5h2.5v59.1h-2.5zM456.8 949.5h2.5v59.1h-2.5zM473 949.5h2.5v59.1h-2.5zM513.9 949.5h2.7v59.1h-2.7zM541.4 949.5h2.5v59.1h-2.5zM578.6 949.5h3.2v59.1h-3.2zM582.3 949.5h2.5v59.1h-2.5zM595.5 949.5h2.4v59.1h-2.4zM871.8 949.5h2.5v59.1h-2.5zM906.8 949.5h2.4v59.1h-2.4zM950.6 949.5h2.5v59.1h-2.5zM956.9 949.5h2.5v59.1h-2.5zM970.4 949.5h2.5v59.1h-2.5z"/>
<path fill="#2b5c26" d="M240.9 949.5h2.5v59.1h-2.5zM294.6 949.5h2.5v59.1h-2.5zM344 949.5h3v59.1h-3zM477.3 949.5h2.7v59.1h-2.7zM522.9 949.5h2.7v59.1h-2.7zM555.4 949.5h2.5v59.1h-2.5zM621.5 949.5h2.5v59.1h-2.5zM666.9 949.5h2.7v59.1h-2.7zM690.4 949.5h3v59.1h-3zM786.2 949.5h2.4v59.1h-2.4zM803.8 949.5h2.4v59.1h-2.4zM961.9 949.5h2.5v59.1h-2.5z"/>
<path fill="#2a6a1e" d="M266.6 949.5h5v59.1h-5z"/>
<path fill="#a4c822" d="M303.3 949.5h13.7v59.1h-13.7zM1058.4 949.5h6.2v59.1h-6.2z"/>
<path fill="#438a22" d="M857.3 949.5h5.7v59.1h-5.7zM911.2 949.5h5v59.1h-5zM974.8 949.5h6.2v59.1h-6.2z"/>
<path fill="#ffee14" d="M1016.8 949.5h8v59.1h-8zM1029.7 949.5h10v59.1h-10zM1093.4 949.5h3.7v59.1h-3.7zM1100.9 949.5h11.6v59.1h-11.6z"/>
<path fill="#dee036" d="M1024.8 949.5h5v59.1h-5zM1089.6 949.5h3.7v59.1h-3.7zM1097.1 949.5h3.7v59.1h-3.7z"/>
<path fill="#b0c84c" d="M1039.7 949.5h13.7v59.1h-13.7z"/>
<path fill="#d6cc70" d="M1064.7 949.5h5v59.1h-5z"/>
<path fill="#f8ac24" d="M1069.7 949.5h11.2v59.1h-11.2z"/>
<path fill="#e4bc60" d="M1080.9 949.5h8.7v59.1h-8.7z"/>
<rect x="80" y="1036.4" width="1199.3" height="59.1" fill="#bebebe"/>
<path fill="#a4d488" fill-opacity=".5" d="M206.3 1036.4h7.6v59.1h-7.6zM230.9 1036.4h6.8v59.1h-6.8zM235.5 1036.4h7.6v59.1h-7.6zM246 1036.4h7.1v59.1h-7.1zM252.5 1036.4h9.4v59.1h-9.4zM269.4 1036.4h9.9v59.1h-9.9zM281.2 1036.4h8.9v59.1h-8.9zM289.2 1036.4h6.8v59.1h-6.8zM297.2 1036.4h6.8v59.1h-6.8zM305.9 1036.4h6.8v59.1h-6.8zM308.1 1036.4h8.1v59.1h-8.1zM318.6 1036.4h7.6v59.1h-7.6zM333.6 1036.4h6.9v59.1h-6.9zM353.5 1036.4h9.9v59.1h-9.9zM372.7 1036.4h6.9v59.1h-6.9zM382 1036.4h6.8v59.1h-6.8zM408.5 1036.4h6.8v59.1h-6.8zM417.7 1036.4h6.8v59.1h-6.8zM425.9 1036.4h8.1v59.1h-8.1zM475.9 1036.4h6.3v59.1h-6.3zM477.2 1036.4h6.8v59.1h-6.8zM514.3 1036.4h6.8v59.1h-6.8zM522.2 1036.4h6.9v59.1h-6.9zM527.5 1036.4h6.8v59.1h-6.8zM547.2 1036.4h6.9v59.1h-6.9zM579.6 1036.4h8.4v59.1h-8.4zM645.5 1036.4h6.9v59.1h-6.9zM732.3 1036.4h6.8v59.1h-6.8zM754.8 1036.4h7.6v59.1h-7.6zM761.6 1036.4h6.8v59.1h-6.8zM767.8 1036.4h6.4v59.1h-6.4zM786.5 1036.4h6.9v59.1h-6.9zM815.5 1036.4h6.8v59.1h-6.8zM821.6 1036.4h6.8v59.1h-6.8zM839.8 1036.4h6.8v59.1h-6.8zM848.7 1036.4h6.8v59.1h-6.8zM857.4 1036.4h6.8v59.1h-6.8zM872.3 1036.4h6.8v59.1h-6.8zM880.8 1036.4h11.4v59.1h-11.4zM918.2 1036.4h6.9v59.1h-6.9zM964.6 1036.4h6.8v59.1h-6.8zM972.1 1036.4h7.4v59.1h-7.4zM998.1 1036.4h6.8v59.1h-6.8zM1005.8 1036.4h7.1v59.1h-7.1zM1050.5 1036.4h11.4v59.1h-11.4zM1065.5 1036.4h11.4v59.1h-11.4zM1076.2 1036.4h9.4v59.1h-9.4zM1083.7 1036.4h7.4v59.1h-7.4zM1096.9 1036.4h7.9v59.1h-7.9zM1122.4 1036.4h8.1v59.1h-8.1zM1127.9 1036.4h6.9v59.1h-6.9zM1149.8 1036.4h7.4v59.1h-7.4zM1201.7 1036.4h6.9v59.1h-6.9zM1207.2 1036.4h9.4v59.1h-9.4zM1218.4 1036.4h6.9v59.1h-6.9zM1222.9 1036.4h6.4v59.1h-6.4z"/>
<path fill="#dcb890" d="M80 1036.4h3.7v59.1h-3.7z"/>
<path fill="#ec9038" d="M83.7 1036.4h3.7v59.1h-3.7zM90.5 1036.4h4.5v59.1h-4.5z"/>
<path fill="#ffb468" d="M87.5 1036.4h3v59.1h-3zM95 1036.4h3v59.1h-3zM121.9 1036.4h4.2v59.1h-4.2z"/>
<path fill="#ff8010" d="M97.9 1036.4h4.5v59.1h-4.5zM126.1 1036.4h7.5v59.1h-7.5z"/>
<path fill="#ff6808" d="M102.4 1036.4h19.5v59.1h-19.5z"/>
<path fill="#e4bc60" d="M133.6 1036.4h5v59.1h-5z"/>
<path fill="#ffd810" d="M138.6 1036.4h13.7v59.1h-13.7zM157.3 1036.4h8.7v59.1h-8.7z"/>
<path fill="#f3cc2c" d="M152.3 1036.4h5v59.1h-5zM166.1 1036.4h13.7v59.1h-13.7z"/>
<path fill="#ecee1c" d="M179.8 1036.4h15v59.1h-15z"/>
<path fill="#dee036" d="M194.8 1036.4h13.7v59.1h-13.7z"/>
<path fill="#437c38" d="M208.5 1036.4h3.2v59.1h-3.2zM248.2 1036.4h2.7v59.1h-2.7zM291.4 1036.4h2.4v59.1h-2.4zM299.4 1036.4h2.4v59.1h-2.4zM308.1 1036.4h2.4v59.1h-2.4zM320.8 1036.4h3.2v59.1h-3.2zM335.8 1036.4h2.5v59.1h-2.5zM374.9 1036.4h2.5v59.1h-2.5zM384.2 1036.4h2.4v59.1h-2.4zM419.9 1036.4h2.4v59.1h-2.4zM516.5 1036.4h2.4v59.1h-2.4zM524.4 1036.4h2.5v59.1h-2.5zM529.7 1036.4h2.4v59.1h-2.4zM549.4 1036.4h2.5v59.1h-2.5zM757 1036.4h3.2v59.1h-3.2zM763.8 1036.4h2.4v59.1h-2.4zM817.7 1036.4h2.4v59.1h-2.4zM823.8 1036.4h2.4v59.1h-2.4zM842 1036.4h2.4v59.1h-2.4zM850.9 1036.4h2.4v59.1h-2.4zM859.6 1036.4h2.4v59.1h-2.4zM874.5 1036.4h2.4v59.1h-2.4zM920.4 1036.4h2.5v59.1h-2.5zM966.8 1036.4h2.4v59.1h-2.4zM1000.3 1036.4h2.4v59.1h-2.4zM1008 1036.4h2.7v59.1h-2.7zM1085.9 1036.4h3v59.1h-3zM1099.1 1036.4h3.5v59.1h-3.5zM1130.1 1036.4h2.5v59.1h-2.5zM1152 1036.4h3v59.1h-3z"/>
<path fill="#b4c8a0" d="M211.7 1036.4h2.5v59.1h-2.5zM226 1036.4h7.5v59.1h-7.5zM293.6 1036.4h6v59.1h-6zM314.1 1036.4h6.7v59.1h-6.7zM431.8 1036.4h3.7v59.1h-3.7zM766 1036.4h4v59.1h-4zM879.3 1036.4h3.7v59.1h-3.7zM890 1036.4h2v59.1h-2zM1059.7 1036.4h3.7v59.1h-3.7zM1195.7 1036.4h8.2v59.1h-8.2zM1214.4 1036.4h6.2v59.1h-6.2z"/>
<path fill="#88b62c" d="M214.2 1036.4h11.7v59.1h-11.7zM254.7 1036.4h5v59.1h-5zM271.6 1036.4h5.5v59.1h-5.5zM770 1036.4h2v59.1h-2zM1067.7 1036.4h7v59.1h-7zM1078.4 1036.4h5v59.1h-5zM1203.9 1036.4h2.5v59.1h-2.5zM1220.6 1036.4h2.5v59.1h-2.5zM1225.1 1036.4h2v59.1h-2z"/>
<path fill="#2b5c26" d="M233.1 1036.4h2.4v59.1h-2.4zM237.7 1036.4h3.2v59.1h-3.2zM410.7 1036.4h2.4v59.1h-2.4zM478.1 1036.4h1.9v59.1h-1.9zM479.4 1036.4h2.4v59.1h-2.4zM647.7 1036.4h2.5v59.1h-2.5zM734.5 1036.4h2.4v59.1h-2.4zM788.7 1036.4h2.5v59.1h-2.5zM974.3 1036.4h3v59.1h-3z"/>
<path fill="#b6c474" d="M250.9 1036.4h3.7v59.1h-3.7zM267.1 1036.4h4.5v59.1h-4.5zM1063.4 1036.4h4.2v59.1h-4.2zM1074.7 1036.4h3.7v59.1h-3.7zM1155 1036.4h3.2v59.1h-3.2zM1191.9 1036.4h3.7v59.1h-3.7z"/>
<path fill="#a4c822" d="M259.7 1036.4h7.5v59.1h-7.5zM1083.4 1036.4h2.5v59.1h-2.5zM1158.3 1036.4h13.7v59.1h-13.7zM1183.2 1036.4h8.7v59.1h-8.7zM1251.8 1036.4h5v59.1h-5z"/>
<path fill="#438a22" d="M283.4 1036.4h4.5v59.1h-4.5zM355.7 1036.4h5.5v59.1h-5.5zM428.1 1036.4h3.7v59.1h-3.7zM581.8 1036.4h4v59.1h-4zM883 1036.4h7v59.1h-7zM1052.7 1036.4h7v59.1h-7zM1124.6 1036.4h3.7v59.1h-3.7z"/>
<path fill="#6ca820" d="M310.3 1036.4h3.7v59.1h-3.7zM1209.4 1036.4h5v59.1h-5zM1241.9 1036.4h10v59.1h-10z"/>
<path fill="#b0c84c" d="M1172 1036.4h11.2v59.1h-11.2z"/>
<path fill="#c6da22" d="M1256.8 1036.4h22.5v59.1h-22.5z"/>
<rect x="1526.3" y="616.4" width="44.2" height="40.9" fill="#bebebe"/>
<rect x="1526.3" y="657" width="44.2" height="40.7" fill="#237a04"/>
<rect x="1526.3" y="697.4" width="44.2" height="40.7" fill="#529a08"/>
<rect x="1526.3" y="737.8" width="44.2" height="40.7" fill="#8cb60c"/>
<rect x="1526.3" y="778.2" width="44.2" height="40.7" fill="#b9d30c"/>
<rect x="1526.3" y="818.6" width="44.2" height="40.7" fill="#edf50c"/>
<rect x="1526.3" y="859" width="44.2" height="40.7" fill="#ffde00"/>
<rect x="1526.3" y="899.4" width="44.2" height="40.7" fill="#ffa808"/>
<rect x="1526.3" y="939.8" width="44.2" height="40.7" fill="#ff7c08"/>
<rect x="1526.3" y="980.2" width="44.2" height="40.7" fill="#ff4604"/>
<rect x="1526.3" y="1020.6" width="44.2" height="40.7" fill="#ff1002"/>
<rect x="1526.3" y="1061" width="44.2" height="44.3" fill="#ff0000"/>
</g>
</svg></body></html>
